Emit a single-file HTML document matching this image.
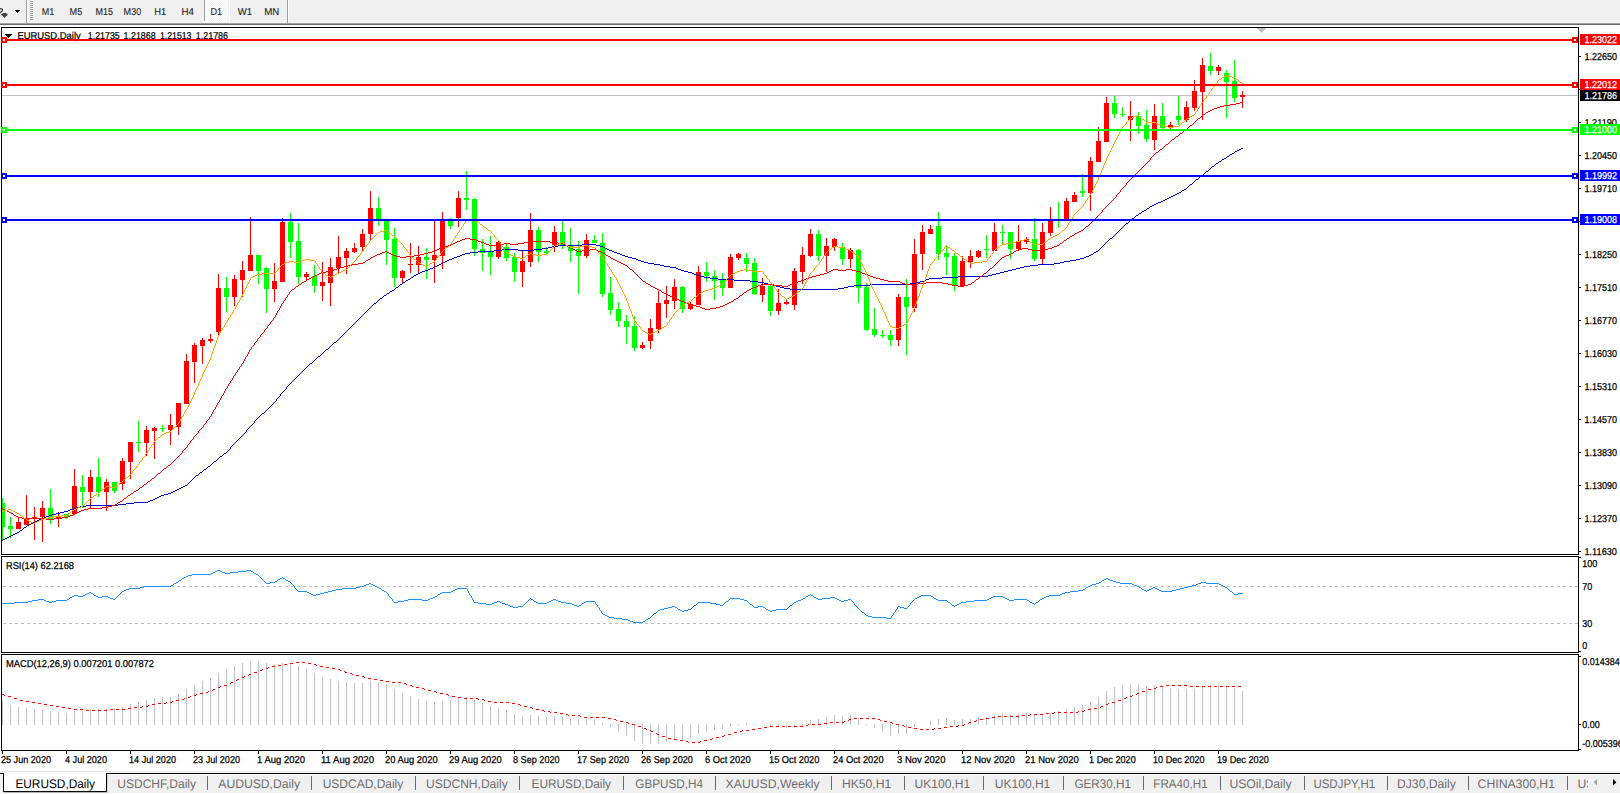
<!DOCTYPE html><html><head><meta charset="utf-8"><style>html,body{margin:0;padding:0;background:#fff;overflow:hidden}svg{display:block}text{font-family:"Liberation Sans",sans-serif}</style></head><body>
<svg width="1620" height="794" viewBox="0 0 1620 794" shape-rendering="crispEdges" text-rendering="geometricPrecision">
<rect x="0" y="0" width="1620" height="794" fill="#ffffff"/>
<rect x="0" y="0" width="1620" height="22" fill="#f0f0f0"/>
<rect x="0" y="22" width="1620" height="1" fill="#f7f7f7"/>
<rect x="0" y="23" width="1620" height="1" fill="#a0a0a0"/>
<rect x="0" y="24" width="1620" height="1" fill="#696969"/>
<path d="M0,8.6 Q2.6,8.6 2.4,10.4 Q2,11.8 0,12.6" fill="none" stroke="#3c3c3c" stroke-width="1.4" shape-rendering="auto"/>
<path d="M1,14.4 L3.3,13 L5.7,13 L8,14.4 L4.5,18 Z" fill="#444" shape-rendering="auto"/>
<rect x="15" y="10" width="5" height="1" fill="#000"/>
<rect x="16" y="11" width="3" height="1" fill="#000"/>
<rect x="17" y="12" width="1" height="1" fill="#000"/>
<rect x="26" y="0" width="1" height="23" fill="#a0a0a0"/>
<rect x="27" y="0" width="1" height="23" fill="#ffffff"/>
<rect x="30" y="1" width="3" height="1" fill="#a0a0a0"/>
<rect x="30" y="3" width="3" height="1" fill="#a0a0a0"/>
<rect x="30" y="5" width="3" height="1" fill="#a0a0a0"/>
<rect x="30" y="7" width="3" height="1" fill="#a0a0a0"/>
<rect x="30" y="9" width="3" height="1" fill="#a0a0a0"/>
<rect x="30" y="11" width="3" height="1" fill="#a0a0a0"/>
<rect x="30" y="13" width="3" height="1" fill="#a0a0a0"/>
<rect x="30" y="15" width="3" height="1" fill="#a0a0a0"/>
<rect x="30" y="17" width="3" height="1" fill="#a0a0a0"/>
<rect x="30" y="19" width="3" height="1" fill="#a0a0a0"/>
<rect x="287" y="0" width="1" height="23" fill="#a0a0a0"/>
<rect x="288" y="0" width="1" height="23" fill="#ffffff"/>
<defs><pattern id="chk" width="2" height="2" patternUnits="userSpaceOnUse"><rect width="2" height="2" fill="#f0f0f0"/><rect width="1" height="1" fill="#ffffff"/><rect x="1" y="1" width="1" height="1" fill="#ffffff"/></pattern></defs>
<rect x="205" y="0" width="23" height="21" fill="url(#chk)"/>
<rect x="229" y="0" width="1" height="22" fill="#ffffff"/>
<rect x="204" y="21" width="26" height="1" fill="#ffffff"/>
<rect x="204" y="0" width="1" height="21" fill="#a0a0a0"/>
<text x="41.7" y="15" font-size="10" fill="#222" textLength="12.5" lengthAdjust="spacingAndGlyphs" stroke="#222" stroke-width="0.1">M1</text>
<text x="69.6" y="15" font-size="10" fill="#222" textLength="12.6" lengthAdjust="spacingAndGlyphs" stroke="#222" stroke-width="0.1">M5</text>
<text x="95.6" y="15" font-size="10" fill="#222" textLength="17.5" lengthAdjust="spacingAndGlyphs" stroke="#222" stroke-width="0.1">M15</text>
<text x="123.6" y="15" font-size="10" fill="#222" textLength="17.6" lengthAdjust="spacingAndGlyphs" stroke="#222" stroke-width="0.1">M30</text>
<text x="154.3" y="15" font-size="10" fill="#222" textLength="12.0" lengthAdjust="spacingAndGlyphs" stroke="#222" stroke-width="0.1">H1</text>
<text x="181.5" y="15" font-size="10" fill="#222" textLength="12.5" lengthAdjust="spacingAndGlyphs" stroke="#222" stroke-width="0.1">H4</text>
<text x="210.5" y="15" font-size="10" fill="#222" textLength="11.7" lengthAdjust="spacingAndGlyphs" stroke="#222" stroke-width="0.1">D1</text>
<text x="237.7" y="15" font-size="10" fill="#222" textLength="14.4" lengthAdjust="spacingAndGlyphs" stroke="#222" stroke-width="0.1">W1</text>
<text x="264.2" y="15" font-size="10" fill="#222" textLength="15.1" lengthAdjust="spacingAndGlyphs" stroke="#222" stroke-width="0.1">MN</text>
<rect x="1" y="27" width="1578" height="1" fill="#000"/>
<rect x="1" y="554" width="1578" height="1" fill="#000"/>
<rect x="1" y="27" width="1" height="528" fill="#000"/>
<rect x="1578" y="27" width="1" height="528" fill="#000"/>
<rect x="1" y="556" width="1578" height="1" fill="#000"/>
<rect x="1" y="652" width="1578" height="1" fill="#000"/>
<rect x="1" y="556" width="1" height="97" fill="#000"/>
<rect x="1578" y="556" width="1" height="97" fill="#000"/>
<rect x="1" y="654" width="1578" height="1" fill="#000"/>
<rect x="1" y="750" width="1578" height="1" fill="#000"/>
<rect x="1" y="654" width="1" height="97" fill="#000"/>
<rect x="1578" y="654" width="1" height="97" fill="#000"/>
<defs><clipPath id="cm"><rect x="2" y="28" width="1576" height="526"/></clipPath><clipPath id="cr"><rect x="2" y="557" width="1576" height="95"/></clipPath><clipPath id="cd"><rect x="2" y="655" width="1576" height="95"/></clipPath></defs>
<g clip-path="url(#cm)">
<rect x="2" y="95" width="1576" height="1" fill="#c0c0c0"/>
<rect x="2" y="498" width="1" height="42" fill="#00ff00"/>
<rect x="0" y="503" width="5" height="24" fill="#00ff00"/>
<rect x="10" y="517" width="1" height="21" fill="#00ff00"/>
<rect x="8" y="526" width="5" height="3" fill="#00ff00"/>
<rect x="18" y="517" width="1" height="12" fill="#ff0000"/>
<rect x="16" y="522" width="5" height="7" fill="#ff0000"/>
<rect x="26" y="495" width="1" height="30" fill="#ff0000"/>
<rect x="24" y="519" width="5" height="6" fill="#ff0000"/>
<rect x="34" y="507" width="1" height="33" fill="#ff0000"/>
<rect x="32" y="517" width="5" height="2" fill="#ff0000"/>
<rect x="42" y="501" width="1" height="41" fill="#ff0000"/>
<rect x="40" y="508" width="5" height="9" fill="#ff0000"/>
<rect x="50" y="489" width="1" height="35" fill="#00ff00"/>
<rect x="48" y="508" width="5" height="11" fill="#00ff00"/>
<rect x="58" y="512" width="1" height="15" fill="#ff0000"/>
<rect x="56" y="516" width="5" height="3" fill="#ff0000"/>
<rect x="66" y="514" width="1" height="5" fill="#00ff00"/>
<rect x="64" y="514" width="5" height="3" fill="#00ff00"/>
<rect x="74" y="469" width="1" height="46" fill="#ff0000"/>
<rect x="72" y="486" width="5" height="28" fill="#ff0000"/>
<rect x="82" y="475" width="1" height="33" fill="#00ff00"/>
<rect x="80" y="487" width="5" height="5" fill="#00ff00"/>
<rect x="90" y="470" width="1" height="38" fill="#ff0000"/>
<rect x="88" y="477" width="5" height="15" fill="#ff0000"/>
<rect x="98" y="458" width="1" height="39" fill="#00ff00"/>
<rect x="96" y="477" width="5" height="15" fill="#00ff00"/>
<rect x="106" y="479" width="1" height="32" fill="#ff0000"/>
<rect x="104" y="482" width="5" height="10" fill="#ff0000"/>
<rect x="114" y="482" width="1" height="11" fill="#00ff00"/>
<rect x="112" y="482" width="5" height="9" fill="#00ff00"/>
<rect x="122" y="458" width="1" height="32" fill="#ff0000"/>
<rect x="120" y="461" width="5" height="23" fill="#ff0000"/>
<rect x="130" y="442" width="1" height="37" fill="#ff0000"/>
<rect x="128" y="442" width="5" height="20" fill="#ff0000"/>
<rect x="138" y="421" width="1" height="31" fill="#00ff00"/>
<rect x="136" y="442" width="5" height="1" fill="#00ff00"/>
<rect x="146" y="426" width="1" height="30" fill="#ff0000"/>
<rect x="144" y="430" width="5" height="13" fill="#ff0000"/>
<rect x="154" y="427" width="1" height="32" fill="#ff0000"/>
<rect x="152" y="428" width="5" height="3" fill="#ff0000"/>
<rect x="162" y="425" width="1" height="7" fill="#00ff00"/>
<rect x="160" y="428" width="5" height="1" fill="#00ff00"/>
<rect x="170" y="414" width="1" height="31" fill="#ff0000"/>
<rect x="168" y="425" width="5" height="5" fill="#ff0000"/>
<rect x="178" y="403" width="1" height="32" fill="#ff0000"/>
<rect x="176" y="403" width="5" height="24" fill="#ff0000"/>
<rect x="186" y="354" width="1" height="50" fill="#ff0000"/>
<rect x="184" y="361" width="5" height="43" fill="#ff0000"/>
<rect x="194" y="343" width="1" height="40" fill="#ff0000"/>
<rect x="192" y="345" width="5" height="17" fill="#ff0000"/>
<rect x="202" y="338" width="1" height="26" fill="#ff0000"/>
<rect x="200" y="340" width="5" height="6" fill="#ff0000"/>
<rect x="210" y="334" width="1" height="9" fill="#ff0000"/>
<rect x="208" y="339" width="5" height="2" fill="#ff0000"/>
<rect x="218" y="274" width="1" height="63" fill="#ff0000"/>
<rect x="216" y="288" width="5" height="44" fill="#ff0000"/>
<rect x="226" y="277" width="1" height="35" fill="#00ff00"/>
<rect x="224" y="288" width="5" height="9" fill="#00ff00"/>
<rect x="234" y="275" width="1" height="31" fill="#ff0000"/>
<rect x="232" y="279" width="5" height="18" fill="#ff0000"/>
<rect x="242" y="261" width="1" height="36" fill="#ff0000"/>
<rect x="240" y="270" width="5" height="10" fill="#ff0000"/>
<rect x="250" y="217" width="1" height="54" fill="#ff0000"/>
<rect x="248" y="255" width="5" height="16" fill="#ff0000"/>
<rect x="258" y="255" width="1" height="29" fill="#00ff00"/>
<rect x="256" y="255" width="5" height="16" fill="#00ff00"/>
<rect x="266" y="267" width="1" height="46" fill="#00ff00"/>
<rect x="264" y="268" width="5" height="21" fill="#00ff00"/>
<rect x="274" y="263" width="1" height="39" fill="#ff0000"/>
<rect x="272" y="281" width="5" height="8" fill="#ff0000"/>
<rect x="282" y="218" width="1" height="64" fill="#ff0000"/>
<rect x="280" y="222" width="5" height="60" fill="#ff0000"/>
<rect x="290" y="213" width="1" height="45" fill="#00ff00"/>
<rect x="288" y="222" width="5" height="20" fill="#00ff00"/>
<rect x="298" y="223" width="1" height="61" fill="#00ff00"/>
<rect x="296" y="241" width="5" height="36" fill="#00ff00"/>
<rect x="306" y="272" width="1" height="8" fill="#ff0000"/>
<rect x="304" y="274" width="5" height="3" fill="#ff0000"/>
<rect x="314" y="265" width="1" height="28" fill="#00ff00"/>
<rect x="312" y="276" width="5" height="10" fill="#00ff00"/>
<rect x="322" y="262" width="1" height="39" fill="#ff0000"/>
<rect x="320" y="282" width="5" height="4" fill="#ff0000"/>
<rect x="330" y="258" width="1" height="48" fill="#ff0000"/>
<rect x="328" y="267" width="5" height="16" fill="#ff0000"/>
<rect x="338" y="236" width="1" height="37" fill="#ff0000"/>
<rect x="336" y="257" width="5" height="11" fill="#ff0000"/>
<rect x="346" y="248" width="1" height="26" fill="#ff0000"/>
<rect x="344" y="251" width="5" height="7" fill="#ff0000"/>
<rect x="354" y="243" width="1" height="10" fill="#ff0000"/>
<rect x="352" y="248" width="5" height="4" fill="#ff0000"/>
<rect x="362" y="229" width="1" height="23" fill="#ff0000"/>
<rect x="360" y="234" width="5" height="13" fill="#ff0000"/>
<rect x="370" y="191" width="1" height="49" fill="#ff0000"/>
<rect x="368" y="208" width="5" height="26" fill="#ff0000"/>
<rect x="378" y="197" width="1" height="29" fill="#00ff00"/>
<rect x="376" y="208" width="5" height="13" fill="#00ff00"/>
<rect x="386" y="220" width="1" height="45" fill="#00ff00"/>
<rect x="384" y="221" width="5" height="19" fill="#00ff00"/>
<rect x="394" y="228" width="1" height="59" fill="#00ff00"/>
<rect x="392" y="239" width="5" height="39" fill="#00ff00"/>
<rect x="402" y="270" width="1" height="13" fill="#ff0000"/>
<rect x="400" y="271" width="5" height="7" fill="#ff0000"/>
<rect x="410" y="243" width="1" height="30" fill="#ff0000"/>
<rect x="408" y="264" width="5" height="1" fill="#ff0000"/>
<rect x="418" y="246" width="1" height="27" fill="#ff0000"/>
<rect x="416" y="257" width="5" height="8" fill="#ff0000"/>
<rect x="426" y="248" width="1" height="31" fill="#00ff00"/>
<rect x="424" y="257" width="5" height="3" fill="#00ff00"/>
<rect x="434" y="221" width="1" height="62" fill="#ff0000"/>
<rect x="432" y="255" width="5" height="5" fill="#ff0000"/>
<rect x="442" y="212" width="1" height="57" fill="#ff0000"/>
<rect x="440" y="220" width="5" height="36" fill="#ff0000"/>
<rect x="450" y="218" width="1" height="11" fill="#00ff00"/>
<rect x="448" y="221" width="5" height="5" fill="#00ff00"/>
<rect x="458" y="191" width="1" height="36" fill="#ff0000"/>
<rect x="456" y="198" width="5" height="20" fill="#ff0000"/>
<rect x="466" y="171" width="1" height="39" fill="#00ff00"/>
<rect x="464" y="198" width="5" height="2" fill="#00ff00"/>
<rect x="474" y="198" width="1" height="58" fill="#00ff00"/>
<rect x="472" y="199" width="5" height="50" fill="#00ff00"/>
<rect x="482" y="239" width="1" height="32" fill="#00ff00"/>
<rect x="480" y="249" width="5" height="4" fill="#00ff00"/>
<rect x="490" y="236" width="1" height="39" fill="#00ff00"/>
<rect x="488" y="252" width="5" height="5" fill="#00ff00"/>
<rect x="498" y="241" width="1" height="18" fill="#ff0000"/>
<rect x="496" y="242" width="5" height="15" fill="#ff0000"/>
<rect x="506" y="244" width="1" height="17" fill="#00ff00"/>
<rect x="504" y="247" width="5" height="11" fill="#00ff00"/>
<rect x="514" y="253" width="1" height="29" fill="#00ff00"/>
<rect x="512" y="257" width="5" height="15" fill="#00ff00"/>
<rect x="522" y="251" width="1" height="36" fill="#ff0000"/>
<rect x="520" y="261" width="5" height="11" fill="#ff0000"/>
<rect x="530" y="213" width="1" height="54" fill="#ff0000"/>
<rect x="528" y="230" width="5" height="32" fill="#ff0000"/>
<rect x="538" y="227" width="1" height="35" fill="#00ff00"/>
<rect x="536" y="230" width="5" height="22" fill="#00ff00"/>
<rect x="546" y="247" width="1" height="8" fill="#00ff00"/>
<rect x="544" y="251" width="5" height="2" fill="#00ff00"/>
<rect x="554" y="226" width="1" height="26" fill="#ff0000"/>
<rect x="552" y="232" width="5" height="13" fill="#ff0000"/>
<rect x="562" y="221" width="1" height="28" fill="#00ff00"/>
<rect x="560" y="232" width="5" height="13" fill="#00ff00"/>
<rect x="570" y="228" width="1" height="34" fill="#00ff00"/>
<rect x="568" y="245" width="5" height="6" fill="#00ff00"/>
<rect x="578" y="241" width="1" height="53" fill="#00ff00"/>
<rect x="576" y="249" width="5" height="7" fill="#00ff00"/>
<rect x="586" y="234" width="1" height="24" fill="#ff0000"/>
<rect x="584" y="240" width="5" height="16" fill="#ff0000"/>
<rect x="594" y="235" width="1" height="8" fill="#00ff00"/>
<rect x="592" y="240" width="5" height="3" fill="#00ff00"/>
<rect x="602" y="233" width="1" height="64" fill="#00ff00"/>
<rect x="600" y="243" width="5" height="51" fill="#00ff00"/>
<rect x="610" y="277" width="1" height="38" fill="#00ff00"/>
<rect x="608" y="293" width="5" height="17" fill="#00ff00"/>
<rect x="618" y="302" width="1" height="25" fill="#00ff00"/>
<rect x="616" y="309" width="5" height="12" fill="#00ff00"/>
<rect x="626" y="315" width="1" height="29" fill="#00ff00"/>
<rect x="624" y="321" width="5" height="6" fill="#00ff00"/>
<rect x="634" y="316" width="1" height="35" fill="#00ff00"/>
<rect x="632" y="326" width="5" height="22" fill="#00ff00"/>
<rect x="642" y="342" width="1" height="7" fill="#ff0000"/>
<rect x="640" y="345" width="5" height="3" fill="#ff0000"/>
<rect x="650" y="319" width="1" height="30" fill="#ff0000"/>
<rect x="648" y="328" width="5" height="13" fill="#ff0000"/>
<rect x="658" y="291" width="1" height="42" fill="#ff0000"/>
<rect x="656" y="303" width="5" height="26" fill="#ff0000"/>
<rect x="666" y="286" width="1" height="32" fill="#ff0000"/>
<rect x="664" y="300" width="5" height="4" fill="#ff0000"/>
<rect x="674" y="279" width="1" height="30" fill="#ff0000"/>
<rect x="672" y="287" width="5" height="14" fill="#ff0000"/>
<rect x="682" y="286" width="1" height="27" fill="#00ff00"/>
<rect x="680" y="287" width="5" height="22" fill="#00ff00"/>
<rect x="690" y="302" width="1" height="8" fill="#ff0000"/>
<rect x="688" y="304" width="5" height="5" fill="#ff0000"/>
<rect x="698" y="266" width="1" height="39" fill="#ff0000"/>
<rect x="696" y="272" width="5" height="33" fill="#ff0000"/>
<rect x="706" y="262" width="1" height="20" fill="#00ff00"/>
<rect x="704" y="272" width="5" height="4" fill="#00ff00"/>
<rect x="714" y="270" width="1" height="30" fill="#00ff00"/>
<rect x="712" y="276" width="5" height="5" fill="#00ff00"/>
<rect x="722" y="273" width="1" height="23" fill="#00ff00"/>
<rect x="720" y="280" width="5" height="8" fill="#00ff00"/>
<rect x="730" y="254" width="1" height="34" fill="#ff0000"/>
<rect x="728" y="257" width="5" height="31" fill="#ff0000"/>
<rect x="738" y="253" width="1" height="7" fill="#ff0000"/>
<rect x="736" y="254" width="5" height="4" fill="#ff0000"/>
<rect x="746" y="253" width="1" height="19" fill="#00ff00"/>
<rect x="744" y="258" width="5" height="6" fill="#00ff00"/>
<rect x="754" y="258" width="1" height="37" fill="#00ff00"/>
<rect x="752" y="263" width="5" height="31" fill="#00ff00"/>
<rect x="762" y="278" width="1" height="24" fill="#ff0000"/>
<rect x="760" y="286" width="5" height="9" fill="#ff0000"/>
<rect x="770" y="284" width="1" height="32" fill="#00ff00"/>
<rect x="768" y="286" width="5" height="25" fill="#00ff00"/>
<rect x="778" y="289" width="1" height="26" fill="#ff0000"/>
<rect x="776" y="303" width="5" height="8" fill="#ff0000"/>
<rect x="786" y="300" width="1" height="5" fill="#ff0000"/>
<rect x="784" y="302" width="5" height="2" fill="#ff0000"/>
<rect x="794" y="268" width="1" height="42" fill="#ff0000"/>
<rect x="792" y="271" width="5" height="34" fill="#ff0000"/>
<rect x="802" y="247" width="1" height="37" fill="#ff0000"/>
<rect x="800" y="255" width="5" height="17" fill="#ff0000"/>
<rect x="810" y="229" width="1" height="28" fill="#ff0000"/>
<rect x="808" y="234" width="5" height="22" fill="#ff0000"/>
<rect x="818" y="230" width="1" height="31" fill="#00ff00"/>
<rect x="816" y="234" width="5" height="22" fill="#00ff00"/>
<rect x="826" y="238" width="1" height="34" fill="#ff0000"/>
<rect x="824" y="246" width="5" height="10" fill="#ff0000"/>
<rect x="834" y="238" width="1" height="13" fill="#ff0000"/>
<rect x="832" y="239" width="5" height="8" fill="#ff0000"/>
<rect x="842" y="243" width="1" height="22" fill="#00ff00"/>
<rect x="840" y="247" width="5" height="12" fill="#00ff00"/>
<rect x="850" y="248" width="1" height="20" fill="#ff0000"/>
<rect x="848" y="250" width="5" height="9" fill="#ff0000"/>
<rect x="858" y="249" width="1" height="54" fill="#00ff00"/>
<rect x="856" y="250" width="5" height="38" fill="#00ff00"/>
<rect x="866" y="283" width="1" height="48" fill="#00ff00"/>
<rect x="864" y="287" width="5" height="43" fill="#00ff00"/>
<rect x="874" y="308" width="1" height="29" fill="#00ff00"/>
<rect x="872" y="329" width="5" height="6" fill="#00ff00"/>
<rect x="882" y="330" width="1" height="8" fill="#00ff00"/>
<rect x="880" y="335" width="5" height="1" fill="#00ff00"/>
<rect x="890" y="330" width="1" height="16" fill="#00ff00"/>
<rect x="888" y="335" width="5" height="5" fill="#00ff00"/>
<rect x="898" y="294" width="1" height="52" fill="#ff0000"/>
<rect x="896" y="297" width="5" height="43" fill="#ff0000"/>
<rect x="906" y="279" width="1" height="76" fill="#00ff00"/>
<rect x="904" y="297" width="5" height="10" fill="#00ff00"/>
<rect x="914" y="239" width="1" height="73" fill="#ff0000"/>
<rect x="912" y="254" width="5" height="54" fill="#ff0000"/>
<rect x="922" y="225" width="1" height="45" fill="#ff0000"/>
<rect x="920" y="232" width="5" height="22" fill="#ff0000"/>
<rect x="930" y="225" width="1" height="9" fill="#ff0000"/>
<rect x="928" y="229" width="5" height="5" fill="#ff0000"/>
<rect x="938" y="212" width="1" height="48" fill="#00ff00"/>
<rect x="936" y="226" width="5" height="28" fill="#00ff00"/>
<rect x="946" y="246" width="1" height="29" fill="#00ff00"/>
<rect x="944" y="253" width="5" height="4" fill="#00ff00"/>
<rect x="954" y="253" width="1" height="38" fill="#00ff00"/>
<rect x="952" y="256" width="5" height="29" fill="#00ff00"/>
<rect x="962" y="256" width="1" height="30" fill="#ff0000"/>
<rect x="960" y="261" width="5" height="25" fill="#ff0000"/>
<rect x="970" y="250" width="1" height="18" fill="#ff0000"/>
<rect x="968" y="256" width="5" height="6" fill="#ff0000"/>
<rect x="978" y="250" width="1" height="8" fill="#ff0000"/>
<rect x="976" y="251" width="5" height="6" fill="#ff0000"/>
<rect x="986" y="235" width="1" height="23" fill="#00ff00"/>
<rect x="984" y="249" width="5" height="1" fill="#00ff00"/>
<rect x="994" y="223" width="1" height="28" fill="#ff0000"/>
<rect x="992" y="232" width="5" height="19" fill="#ff0000"/>
<rect x="1002" y="225" width="1" height="19" fill="#00ff00"/>
<rect x="1000" y="232" width="5" height="1" fill="#00ff00"/>
<rect x="1010" y="232" width="1" height="27" fill="#00ff00"/>
<rect x="1008" y="232" width="5" height="17" fill="#00ff00"/>
<rect x="1018" y="225" width="1" height="26" fill="#ff0000"/>
<rect x="1016" y="241" width="5" height="8" fill="#ff0000"/>
<rect x="1026" y="237" width="1" height="7" fill="#ff0000"/>
<rect x="1024" y="239" width="5" height="3" fill="#ff0000"/>
<rect x="1034" y="218" width="1" height="43" fill="#00ff00"/>
<rect x="1032" y="239" width="5" height="20" fill="#00ff00"/>
<rect x="1042" y="223" width="1" height="42" fill="#ff0000"/>
<rect x="1040" y="232" width="5" height="27" fill="#ff0000"/>
<rect x="1050" y="207" width="1" height="29" fill="#ff0000"/>
<rect x="1048" y="220" width="5" height="13" fill="#ff0000"/>
<rect x="1058" y="202" width="1" height="26" fill="#00ff00"/>
<rect x="1056" y="219" width="5" height="1" fill="#00ff00"/>
<rect x="1066" y="198" width="1" height="21" fill="#ff0000"/>
<rect x="1064" y="201" width="5" height="18" fill="#ff0000"/>
<rect x="1074" y="192" width="1" height="10" fill="#ff0000"/>
<rect x="1072" y="195" width="5" height="7" fill="#ff0000"/>
<rect x="1082" y="174" width="1" height="23" fill="#00ff00"/>
<rect x="1080" y="191" width="5" height="2" fill="#00ff00"/>
<rect x="1090" y="157" width="1" height="54" fill="#ff0000"/>
<rect x="1088" y="161" width="5" height="32" fill="#ff0000"/>
<rect x="1098" y="127" width="1" height="35" fill="#ff0000"/>
<rect x="1096" y="141" width="5" height="21" fill="#ff0000"/>
<rect x="1106" y="97" width="1" height="45" fill="#ff0000"/>
<rect x="1104" y="103" width="5" height="39" fill="#ff0000"/>
<rect x="1114" y="96" width="1" height="22" fill="#00ff00"/>
<rect x="1112" y="103" width="5" height="11" fill="#00ff00"/>
<rect x="1122" y="107" width="1" height="10" fill="#00ff00"/>
<rect x="1120" y="114" width="5" height="1" fill="#00ff00"/>
<rect x="1130" y="101" width="1" height="40" fill="#ff0000"/>
<rect x="1128" y="116" width="5" height="4" fill="#ff0000"/>
<rect x="1138" y="112" width="1" height="22" fill="#00ff00"/>
<rect x="1136" y="116" width="5" height="10" fill="#00ff00"/>
<rect x="1146" y="110" width="1" height="32" fill="#00ff00"/>
<rect x="1144" y="125" width="5" height="14" fill="#00ff00"/>
<rect x="1154" y="104" width="1" height="46" fill="#ff0000"/>
<rect x="1152" y="116" width="5" height="24" fill="#ff0000"/>
<rect x="1162" y="103" width="1" height="26" fill="#00ff00"/>
<rect x="1160" y="116" width="5" height="12" fill="#00ff00"/>
<rect x="1170" y="122" width="1" height="7" fill="#ff0000"/>
<rect x="1168" y="125" width="5" height="3" fill="#ff0000"/>
<rect x="1178" y="96" width="1" height="29" fill="#00ff00"/>
<rect x="1176" y="116" width="5" height="4" fill="#00ff00"/>
<rect x="1186" y="101" width="1" height="21" fill="#ff0000"/>
<rect x="1184" y="107" width="5" height="13" fill="#ff0000"/>
<rect x="1194" y="80" width="1" height="31" fill="#ff0000"/>
<rect x="1192" y="91" width="5" height="17" fill="#ff0000"/>
<rect x="1202" y="58" width="1" height="62" fill="#ff0000"/>
<rect x="1200" y="65" width="5" height="27" fill="#ff0000"/>
<rect x="1210" y="53" width="1" height="22" fill="#00ff00"/>
<rect x="1208" y="66" width="5" height="5" fill="#00ff00"/>
<rect x="1218" y="65" width="1" height="10" fill="#ff0000"/>
<rect x="1216" y="67" width="5" height="4" fill="#ff0000"/>
<rect x="1226" y="70" width="1" height="48" fill="#00ff00"/>
<rect x="1224" y="73" width="5" height="9" fill="#00ff00"/>
<rect x="1234" y="60" width="1" height="42" fill="#00ff00"/>
<rect x="1232" y="81" width="5" height="17" fill="#00ff00"/>
<rect x="1242" y="91" width="1" height="17" fill="#ff0000"/>
<rect x="1240" y="95" width="5" height="2" fill="#ff0000"/>
<path d="M2 540h1v1h-1zM3 539h2v1h-2zM5 538h2v1h-2zM7 537h2v1h-2zM9 536h2v1h-2zM11 535h2v1h-2zM13 534h2v1h-2zM15 533h2v1h-2zM17 532h2v1h-2zM19 531h1v1h-1zM20 530h2v1h-2zM22 529h1v1h-1zM23 528h1v1h-1zM24 527h2v1h-2zM26 526h1v1h-1zM27 525h2v1h-2zM29 524h2v1h-2zM31 523h2v1h-2zM33 522h2v1h-2zM35 521h2v1h-2zM37 520h2v1h-2zM39 519h2v1h-2zM41 518h3v1h-3zM44 517h2v1h-2zM46 516h3v1h-3zM49 515h3v1h-3zM52 514h4v1h-4zM56 513h4v1h-4zM60 512h4v1h-4zM64 511h4v1h-4zM68 510h2v1h-2zM70 509h3v1h-3zM73 508h3v1h-3zM76 507h4v1h-4zM80 506h6v1h-6zM86 505h32v1h-32zM118 504h8v1h-8zM126 503h8v1h-8zM134 502h14v1h-14zM148 501h2v1h-2zM150 500h3v1h-3zM153 499h2v1h-2zM155 498h2v1h-2zM157 497h2v1h-2zM159 496h2v1h-2zM161 495h3v1h-3zM164 494h4v1h-4zM168 493h3v1h-3zM171 492h2v1h-2zM173 491h2v1h-2zM175 490h2v1h-2zM177 489h2v1h-2zM179 488h2v1h-2zM181 487h2v1h-2zM183 486h2v1h-2zM185 485h2v1h-2zM187 484h1v1h-1zM188 483h1v1h-1zM189 482h1v1h-1zM190 481h1v1h-1zM191 480h1v1h-1zM192 479h1v1h-1zM193 478h1v1h-1zM194 477h1v1h-1zM195 476h1v1h-1zM196 475h2v1h-2zM198 474h1v1h-1zM199 473h1v1h-1zM200 472h2v1h-2zM202 471h1v1h-1zM203 470h1v1h-1zM204 469h2v1h-2zM206 468h1v1h-1zM207 467h1v1h-1zM208 466h2v1h-2zM210 465h1v1h-1zM211 464h1v1h-1zM212 463h1v1h-1zM213 462h1v1h-1zM214 461h2v1h-2zM216 460h1v1h-1zM217 459h1v1h-1zM218 458h1v1h-1zM219 457h1v1h-1zM220 456h2v1h-2zM222 455h1v1h-1zM223 454h1v1h-1zM224 453h2v1h-2zM226 452h1v1h-1zM227 451h1v1h-1zM228 450h1v1h-1zM229 449h1v1h-1zM230 448h1v1h-1zM230 447h1v1h-1zM231 446h1v1h-1zM232 445h1v1h-1zM233 444h1v1h-1zM234 443h1v1h-1zM235 442h1v1h-1zM236 441h1v1h-1zM237 440h1v1h-1zM238 439h1v1h-1zM239 438h1v1h-1zM240 437h1v1h-1zM241 436h1v1h-1zM242 435h1v1h-1zM243 434h1v1h-1zM244 433h1v1h-1zM245 432h1v1h-1zM246 431h1v1h-1zM246 430h1v1h-1zM247 429h1v1h-1zM248 428h1v1h-1zM249 427h1v1h-1zM250 426h1v1h-1zM251 425h1v1h-1zM252 424h1v1h-1zM253 423h1v1h-1zM254 422h1v1h-1zM254 421h1v1h-1zM255 420h1v1h-1zM256 419h1v1h-1zM257 418h1v1h-1zM258 417h1v1h-1zM259 416h1v1h-1zM260 415h1v1h-1zM261 414h1v1h-1zM262 413h2v1h-2zM264 412h1v1h-1zM265 411h1v1h-1zM266 410h1v1h-1zM267 409h1v1h-1zM268 408h1v1h-1zM269 407h1v1h-1zM270 406h1v1h-1zM271 405h1v1h-1zM272 404h1v1h-1zM273 403h1v1h-1zM274 402h1v1h-1zM275 401h1v1h-1zM276 400h1v1h-1zM276 399h1v1h-1zM277 398h1v1h-1zM278 397h1v1h-1zM279 396h1v1h-1zM280 395h1v1h-1zM280 394h1v1h-1zM281 393h1v1h-1zM282 392h1v1h-1zM283 391h1v1h-1zM284 390h1v1h-1zM285 389h1v1h-1zM286 388h1v1h-1zM286 387h1v1h-1zM287 386h1v1h-1zM288 385h1v1h-1zM289 384h1v1h-1zM290 383h1v1h-1zM291 382h1v1h-1zM292 381h1v1h-1zM293 380h1v1h-1zM294 379h1v1h-1zM295 378h1v1h-1zM296 377h1v1h-1zM297 376h1v1h-1zM298 375h1v1h-1zM299 374h1v1h-1zM300 373h1v1h-1zM301 372h1v1h-1zM302 371h1v1h-1zM303 370h1v1h-1zM304 369h1v1h-1zM305 368h1v1h-1zM306 367h1v1h-1zM307 366h1v1h-1zM308 365h1v1h-1zM309 364h1v1h-1zM310 363h2v1h-2zM312 362h1v1h-1zM313 361h1v1h-1zM314 360h1v1h-1zM315 359h1v1h-1zM316 358h1v1h-1zM317 357h1v1h-1zM318 356h2v1h-2zM320 355h1v1h-1zM321 354h1v1h-1zM322 353h1v1h-1zM323 352h1v1h-1zM324 351h1v1h-1zM325 350h1v1h-1zM326 349h2v1h-2zM328 348h1v1h-1zM329 347h1v1h-1zM330 346h1v1h-1zM331 345h1v1h-1zM332 344h1v1h-1zM333 343h1v1h-1zM334 342h2v1h-2zM336 341h1v1h-1zM337 340h1v1h-1zM338 339h1v1h-1zM339 338h1v1h-1zM340 337h1v1h-1zM341 336h1v1h-1zM342 335h1v1h-1zM343 334h1v1h-1zM344 333h1v1h-1zM345 332h1v1h-1zM346 331h1v1h-1zM347 330h1v1h-1zM348 329h1v1h-1zM349 328h1v1h-1zM350 327h1v1h-1zM351 326h1v1h-1zM352 325h1v1h-1zM353 324h1v1h-1zM354 323h1v1h-1zM355 322h1v1h-1zM356 321h1v1h-1zM357 320h1v1h-1zM358 319h1v1h-1zM359 318h1v1h-1zM360 317h1v1h-1zM361 316h1v1h-1zM362 315h1v1h-1zM363 314h1v1h-1zM364 313h1v1h-1zM365 312h1v1h-1zM366 311h1v1h-1zM367 310h1v1h-1zM368 309h1v1h-1zM369 308h1v1h-1zM370 307h1v1h-1zM371 306h1v1h-1zM372 305h1v1h-1zM373 304h1v1h-1zM374 303h2v1h-2zM376 302h1v1h-1zM377 301h1v1h-1zM378 300h1v1h-1zM379 299h1v1h-1zM380 298h2v1h-2zM382 297h1v1h-1zM383 296h1v1h-1zM384 295h2v1h-2zM386 294h1v1h-1zM387 293h2v1h-2zM389 292h1v1h-1zM390 291h2v1h-2zM392 290h2v1h-2zM394 289h1v1h-1zM790 289h48v1h-48zM395 288h1v1h-1zM784 288h6v1h-6zM838 288h6v1h-6zM396 287h2v1h-2zM780 287h4v1h-4zM844 287h4v1h-4zM398 286h1v1h-1zM776 286h4v1h-4zM848 286h6v1h-6zM399 285h1v1h-1zM772 285h4v1h-4zM854 285h16v1h-16zM400 284h2v1h-2zM768 284h4v1h-4zM870 284h40v1h-40zM402 283h1v1h-1zM764 283h4v1h-4zM910 283h6v1h-6zM403 282h2v1h-2zM758 282h6v1h-6zM916 282h4v1h-4zM405 281h1v1h-1zM750 281h8v1h-8zM920 281h4v1h-4zM406 280h2v1h-2zM734 280h16v1h-16zM924 280h2v1h-2zM408 279h2v1h-2zM718 279h16v1h-16zM926 279h3v1h-3zM410 278h1v1h-1zM710 278h8v1h-8zM929 278h13v1h-13zM411 277h2v1h-2zM704 277h6v1h-6zM942 277h16v1h-16zM413 276h1v1h-1zM700 276h4v1h-4zM958 276h30v1h-30zM414 275h2v1h-2zM697 275h3v1h-3zM988 275h4v1h-4zM416 274h2v1h-2zM694 274h3v1h-3zM992 274h4v1h-4zM418 273h2v1h-2zM692 273h2v1h-2zM996 273h4v1h-4zM420 272h2v1h-2zM688 272h4v1h-4zM1000 272h4v1h-4zM422 271h3v1h-3zM684 271h4v1h-4zM1004 271h4v1h-4zM425 270h3v1h-3zM681 270h3v1h-3zM1008 270h4v1h-4zM428 269h2v1h-2zM678 269h3v1h-3zM1012 269h4v1h-4zM430 268h3v1h-3zM676 268h2v1h-2zM1016 268h4v1h-4zM433 267h2v1h-2zM670 267h6v1h-6zM1020 267h4v1h-4zM435 266h2v1h-2zM664 266h6v1h-6zM1024 266h6v1h-6zM437 265h2v1h-2zM660 265h4v1h-4zM1030 265h8v1h-8zM439 264h2v1h-2zM654 264h6v1h-6zM1038 264h16v1h-16zM441 263h2v1h-2zM648 263h6v1h-6zM1054 263h6v1h-6zM443 262h2v1h-2zM644 262h4v1h-4zM1060 262h4v1h-4zM445 261h2v1h-2zM641 261h3v1h-3zM1064 261h6v1h-6zM447 260h2v1h-2zM638 260h3v1h-3zM1070 260h6v1h-6zM449 259h3v1h-3zM636 259h2v1h-2zM1076 259h4v1h-4zM452 258h2v1h-2zM632 258h4v1h-4zM1080 258h4v1h-4zM454 257h3v1h-3zM628 257h4v1h-4zM1084 257h2v1h-2zM457 256h3v1h-3zM625 256h3v1h-3zM1086 256h3v1h-3zM460 255h2v1h-2zM622 255h3v1h-3zM1089 255h2v1h-2zM462 254h3v1h-3zM620 254h2v1h-2zM1091 254h2v1h-2zM465 253h5v1h-5zM617 253h3v1h-3zM1093 253h1v1h-1zM470 252h8v1h-8zM614 252h3v1h-3zM1094 252h2v1h-2zM478 251h16v1h-16zM612 251h2v1h-2zM1096 251h2v1h-2zM494 250h8v1h-8zM518 250h16v1h-16zM609 250h3v1h-3zM1098 250h1v1h-1zM502 249h16v1h-16zM534 249h8v1h-8zM607 249h2v1h-2zM1099 249h1v1h-1zM542 248h6v1h-6zM605 248h2v1h-2zM1100 248h1v1h-1zM548 247h4v1h-4zM603 247h2v1h-2zM1101 247h1v1h-1zM552 246h6v1h-6zM600 246h3v1h-3zM1102 246h1v1h-1zM558 245h24v1h-24zM596 245h4v1h-4zM1103 245h1v1h-1zM582 244h14v1h-14zM1104 244h1v1h-1zM1105 243h1v1h-1zM1106 242h1v1h-1zM1107 241h1v1h-1zM1108 240h1v1h-1zM1109 239h1v1h-1zM1110 238h2v1h-2zM1112 237h1v1h-1zM1113 236h1v1h-1zM1114 235h1v1h-1zM1115 234h1v1h-1zM1116 233h1v1h-1zM1117 232h1v1h-1zM1118 231h1v1h-1zM1119 230h1v1h-1zM1120 229h1v1h-1zM1121 228h1v1h-1zM1122 227h1v1h-1zM1123 226h1v1h-1zM1124 225h1v1h-1zM1125 224h1v1h-1zM1126 223h2v1h-2zM1128 222h1v1h-1zM1129 221h1v1h-1zM1130 220h1v1h-1zM1131 219h1v1h-1zM1132 218h2v1h-2zM1134 217h1v1h-1zM1135 216h1v1h-1zM1136 215h2v1h-2zM1138 214h1v1h-1zM1139 213h2v1h-2zM1141 212h1v1h-1zM1142 211h2v1h-2zM1144 210h2v1h-2zM1146 209h1v1h-1zM1147 208h2v1h-2zM1149 207h1v1h-1zM1150 206h2v1h-2zM1152 205h2v1h-2zM1154 204h2v1h-2zM1156 203h2v1h-2zM1158 202h3v1h-3zM1161 201h2v1h-2zM1163 200h2v1h-2zM1165 199h2v1h-2zM1167 198h2v1h-2zM1169 197h2v1h-2zM1171 196h2v1h-2zM1173 195h2v1h-2zM1175 194h2v1h-2zM1177 193h2v1h-2zM1179 192h2v1h-2zM1181 191h1v1h-1zM1182 190h2v1h-2zM1184 189h2v1h-2zM1186 188h1v1h-1zM1187 187h1v1h-1zM1188 186h1v1h-1zM1189 185h1v1h-1zM1190 184h2v1h-2zM1192 183h1v1h-1zM1193 182h1v1h-1zM1194 181h1v1h-1zM1195 180h1v1h-1zM1196 179h2v1h-2zM1198 178h1v1h-1zM1199 177h1v1h-1zM1200 176h2v1h-2zM1202 175h1v1h-1zM1203 174h1v1h-1zM1204 173h1v1h-1zM1205 172h1v1h-1zM1206 171h2v1h-2zM1208 170h1v1h-1zM1209 169h1v1h-1zM1210 168h1v1h-1zM1211 167h1v1h-1zM1212 166h2v1h-2zM1214 165h1v1h-1zM1215 164h1v1h-1zM1216 163h2v1h-2zM1218 162h1v1h-1zM1219 161h2v1h-2zM1221 160h1v1h-1zM1222 159h2v1h-2zM1224 158h2v1h-2zM1226 157h1v1h-1zM1227 156h2v1h-2zM1229 155h1v1h-1zM1230 154h2v1h-2zM1232 153h2v1h-2zM1234 152h1v1h-1zM1235 151h2v1h-2zM1237 150h2v1h-2zM1239 149h2v1h-2zM1241 148h2v1h-2z" fill="#0000cd"/>
<path d="M2 508h1v1h-1zM88 508h14v1h-14zM3 509h2v1h-2zM84 509h4v1h-4zM5 510h2v1h-2zM81 510h3v1h-3zM7 511h2v1h-2zM79 511h2v1h-2zM9 512h2v1h-2zM77 512h2v1h-2zM11 513h2v1h-2zM75 513h2v1h-2zM13 514h1v1h-1zM73 514h2v1h-2zM14 515h2v1h-2zM70 515h3v1h-3zM16 516h2v1h-2zM68 516h2v1h-2zM18 517h4v1h-4zM62 517h6v1h-6zM22 518h24v1h-24zM54 518h8v1h-8zM46 519h8v1h-8zM102 507h6v1h-6zM108 506h4v1h-4zM112 505h3v1h-3zM115 504h2v1h-2zM117 503h1v1h-1zM118 502h2v1h-2zM120 501h2v1h-2zM122 500h1v1h-1zM123 499h1v1h-1zM124 498h2v1h-2zM126 497h1v1h-1zM127 496h1v1h-1zM128 495h2v1h-2zM130 494h1v1h-1zM131 493h2v1h-2zM133 492h1v1h-1zM134 491h2v1h-2zM136 490h2v1h-2zM138 489h1v1h-1zM139 488h1v1h-1zM140 487h2v1h-2zM142 486h1v1h-1zM143 485h1v1h-1zM144 484h2v1h-2zM146 483h1v1h-1zM147 482h1v1h-1zM148 481h2v1h-2zM150 480h1v1h-1zM151 479h1v1h-1zM152 478h2v1h-2zM154 477h1v1h-1zM155 476h1v1h-1zM156 475h1v1h-1zM157 474h1v1h-1zM158 473h2v1h-2zM160 472h1v1h-1zM161 471h1v1h-1zM162 470h1v1h-1zM163 469h1v1h-1zM164 468h2v1h-2zM166 467h1v1h-1zM167 466h1v1h-1zM168 465h2v1h-2zM170 464h1v1h-1zM171 463h1v1h-1zM172 462h1v1h-1zM173 461h1v1h-1zM174 460h1v1h-1zM175 459h1v1h-1zM176 458h1v1h-1zM177 457h1v1h-1zM178 456h1v1h-1zM179 455h1v1h-1zM180 454h1v1h-1zM181 453h1v1h-1zM182 452h1v1h-1zM182 451h1v1h-1zM183 450h1v1h-1zM184 449h1v1h-1zM185 448h1v1h-1zM186 447h1v1h-1zM187 446h1v1h-1zM187 445h1v1h-1zM188 444h1v1h-1zM189 443h1v1h-1zM190 442h1v1h-1zM190 441h1v1h-1zM191 440h1v1h-1zM192 439h1v1h-1zM193 438h1v1h-1zM193 437h1v1h-1zM194 436h1v1h-1zM195 435h1v1h-1zM196 434h1v1h-1zM197 433h1v1h-1zM198 432h1v1h-1zM198 431h1v1h-1zM199 430h1v1h-1zM200 429h1v1h-1zM201 428h1v1h-1zM202 427h1v1h-1zM203 426h1v1h-1zM203 425h1v1h-1zM204 424h1v1h-1zM205 423h1v1h-1zM206 422h1v1h-1zM206 421h1v1h-1zM207 420h1v1h-1zM208 419h1v1h-1zM209 418h1v1h-1zM209 417h1v1h-1zM210 416h1v1h-1zM211 415h1v1h-1zM211 414h1v1h-1zM212 413h1v1h-1zM212 412h1v1h-1zM213 411h1v1h-1zM213 410h1v1h-1zM214 409h1v1h-1zM215 408h1v1h-1zM215 407h1v1h-1zM216 406h1v1h-1zM216 405h1v1h-1zM217 404h1v1h-1zM217 403h1v1h-1zM218 402h1v1h-1zM219 401h1v1h-1zM219 400h1v1h-1zM220 399h1v1h-1zM220 398h1v1h-1zM221 397h1v1h-1zM221 396h1v1h-1zM222 395h1v1h-1zM223 394h1v1h-1zM223 393h1v1h-1zM224 392h1v1h-1zM224 391h1v1h-1zM225 390h1v1h-1zM225 389h1v1h-1zM226 388h1v1h-1zM227 387h1v1h-1zM227 386h1v1h-1zM228 385h1v1h-1zM228 384h1v1h-1zM229 383h1v1h-1zM230 382h1v1h-1zM230 381h1v1h-1zM231 380h1v1h-1zM232 379h1v1h-1zM232 378h1v1h-1zM233 377h1v1h-1zM233 376h1v1h-1zM234 375h1v1h-1zM235 374h1v1h-1zM235 373h1v1h-1zM236 372h1v1h-1zM237 371h1v1h-1zM237 370h1v1h-1zM238 369h1v1h-1zM239 368h1v1h-1zM239 367h1v1h-1zM240 366h1v1h-1zM241 365h1v1h-1zM241 364h1v1h-1zM242 363h1v1h-1zM243 362h1v1h-1zM243 361h1v1h-1zM244 360h1v1h-1zM244 359h1v1h-1zM245 358h1v1h-1zM245 357h1v1h-1zM246 356h1v1h-1zM247 355h1v1h-1zM247 354h1v1h-1zM248 353h1v1h-1zM248 352h1v1h-1zM249 351h1v1h-1zM249 350h1v1h-1zM250 349h1v1h-1zM251 348h1v1h-1zM251 347h1v1h-1zM252 346h1v1h-1zM253 345h1v1h-1zM254 344h1v1h-1zM254 343h1v1h-1zM255 342h1v1h-1zM256 341h1v1h-1zM257 340h1v1h-1zM257 339h1v1h-1zM258 338h1v1h-1zM259 337h1v1h-1zM260 336h1v1h-1zM260 335h1v1h-1zM261 334h1v1h-1zM262 333h1v1h-1zM263 332h1v1h-1zM264 331h1v1h-1zM264 330h1v1h-1zM265 329h1v1h-1zM266 328h1v1h-1zM267 327h1v1h-1zM267 326h1v1h-1zM268 325h1v1h-1zM269 324h1v1h-1zM270 323h1v1h-1zM270 322h1v1h-1zM271 321h1v1h-1zM272 320h1v1h-1zM273 319h1v1h-1zM273 318h1v1h-1zM274 317h1v1h-1zM275 316h1v1h-1zM275 315h1v1h-1zM276 314h1v1h-1zM276 313h1v1h-1zM277 312h1v1h-1zM277 311h1v1h-1zM278 310h1v1h-1zM279 309h1v1h-1zM705 309h5v1h-5zM279 308h1v1h-1zM702 308h3v1h-3zM710 308h6v1h-6zM280 307h1v1h-1zM700 307h2v1h-2zM716 307h4v1h-4zM280 306h1v1h-1zM696 306h4v1h-4zM720 306h3v1h-3zM281 305h1v1h-1zM692 305h4v1h-4zM723 305h2v1h-2zM281 304h1v1h-1zM689 304h3v1h-3zM725 304h2v1h-2zM282 303h1v1h-1zM686 303h3v1h-3zM727 303h2v1h-2zM283 302h1v1h-1zM684 302h2v1h-2zM729 302h2v1h-2zM283 301h1v1h-1zM681 301h3v1h-3zM731 301h2v1h-2zM284 300h1v1h-1zM679 300h2v1h-2zM733 300h1v1h-1zM285 299h1v1h-1zM677 299h2v1h-2zM734 299h2v1h-2zM285 298h1v1h-1zM675 298h2v1h-2zM736 298h2v1h-2zM286 297h1v1h-1zM673 297h2v1h-2zM738 297h1v1h-1zM287 296h1v1h-1zM670 296h3v1h-3zM739 296h1v1h-1zM287 295h1v1h-1zM668 295h2v1h-2zM740 295h2v1h-2zM288 294h1v1h-1zM666 294h2v1h-2zM742 294h1v1h-1zM289 293h1v1h-1zM664 293h2v1h-2zM743 293h1v1h-1zM289 292h1v1h-1zM662 292h2v1h-2zM744 292h2v1h-2zM290 291h1v1h-1zM661 291h1v1h-1zM746 291h1v1h-1zM291 290h1v1h-1zM659 290h2v1h-2zM747 290h2v1h-2zM292 289h2v1h-2zM657 289h2v1h-2zM749 289h2v1h-2zM294 288h1v1h-1zM655 288h2v1h-2zM751 288h2v1h-2zM295 287h1v1h-1zM653 287h2v1h-2zM753 287h3v1h-3zM296 286h2v1h-2zM651 286h2v1h-2zM756 286h2v1h-2zM782 286h6v1h-6zM958 286h6v1h-6zM298 285h1v1h-1zM650 285h1v1h-1zM758 285h3v1h-3zM774 285h8v1h-8zM788 285h2v1h-2zM952 285h6v1h-6zM964 285h4v1h-4zM299 284h2v1h-2zM648 284h2v1h-2zM761 284h13v1h-13zM790 284h3v1h-3zM905 284h13v1h-13zM948 284h4v1h-4zM968 284h3v1h-3zM301 283h1v1h-1zM646 283h2v1h-2zM793 283h3v1h-3zM902 283h3v1h-3zM918 283h8v1h-8zM942 283h6v1h-6zM971 283h1v1h-1zM302 282h2v1h-2zM645 282h1v1h-1zM796 282h2v1h-2zM900 282h2v1h-2zM926 282h16v1h-16zM972 282h2v1h-2zM304 281h2v1h-2zM643 281h2v1h-2zM798 281h3v1h-3zM888 281h12v1h-12zM974 281h1v1h-1zM306 280h1v1h-1zM642 280h1v1h-1zM801 280h3v1h-3zM884 280h4v1h-4zM975 280h1v1h-1zM307 279h2v1h-2zM641 279h1v1h-1zM804 279h2v1h-2zM880 279h4v1h-4zM976 279h2v1h-2zM309 278h2v1h-2zM640 278h1v1h-1zM806 278h3v1h-3zM876 278h4v1h-4zM978 278h1v1h-1zM311 277h2v1h-2zM639 277h1v1h-1zM809 277h3v1h-3zM873 277h3v1h-3zM979 277h1v1h-1zM313 276h2v1h-2zM638 276h1v1h-1zM812 276h4v1h-4zM870 276h3v1h-3zM980 276h2v1h-2zM315 275h2v1h-2zM637 275h1v1h-1zM816 275h4v1h-4zM868 275h2v1h-2zM982 275h1v1h-1zM317 274h2v1h-2zM636 274h1v1h-1zM820 274h4v1h-4zM865 274h3v1h-3zM983 274h1v1h-1zM319 273h2v1h-2zM635 273h1v1h-1zM824 273h3v1h-3zM862 273h3v1h-3zM984 273h2v1h-2zM321 272h5v1h-5zM634 272h1v1h-1zM827 272h2v1h-2zM860 272h2v1h-2zM986 272h1v1h-1zM326 271h6v1h-6zM633 271h1v1h-1zM829 271h2v1h-2zM856 271h4v1h-4zM987 271h1v1h-1zM332 270h2v1h-2zM632 270h1v1h-1zM831 270h2v1h-2zM838 270h8v1h-8zM852 270h4v1h-4zM988 270h1v1h-1zM334 269h3v1h-3zM630 269h2v1h-2zM833 269h5v1h-5zM846 269h6v1h-6zM989 269h1v1h-1zM337 268h3v1h-3zM629 268h1v1h-1zM990 268h2v1h-2zM340 267h4v1h-4zM628 267h1v1h-1zM992 267h1v1h-1zM344 266h4v1h-4zM627 266h1v1h-1zM993 266h1v1h-1zM348 265h4v1h-4zM625 265h2v1h-2zM994 265h1v1h-1zM352 264h6v1h-6zM623 264h2v1h-2zM995 264h1v1h-1zM358 263h5v1h-5zM621 263h2v1h-2zM996 263h1v1h-1zM363 262h2v1h-2zM619 262h2v1h-2zM997 262h1v1h-1zM365 261h1v1h-1zM617 261h2v1h-2zM998 261h1v1h-1zM366 260h2v1h-2zM615 260h2v1h-2zM999 260h1v1h-1zM368 259h2v1h-2zM613 259h2v1h-2zM1000 259h1v1h-1zM370 258h1v1h-1zM611 258h2v1h-2zM1001 258h1v1h-1zM371 257h2v1h-2zM400 257h6v1h-6zM610 257h1v1h-1zM1002 257h2v1h-2zM373 256h2v1h-2zM396 256h4v1h-4zM406 256h8v1h-8zM608 256h2v1h-2zM1004 256h2v1h-2zM375 255h2v1h-2zM393 255h3v1h-3zM414 255h6v1h-6zM606 255h2v1h-2zM1006 255h3v1h-3zM377 254h3v1h-3zM391 254h2v1h-2zM420 254h4v1h-4zM605 254h1v1h-1zM1009 254h2v1h-2zM380 253h2v1h-2zM389 253h2v1h-2zM424 253h4v1h-4zM603 253h2v1h-2zM1011 253h2v1h-2zM382 252h3v1h-3zM387 252h2v1h-2zM428 252h4v1h-4zM601 252h2v1h-2zM1013 252h1v1h-1zM385 251h2v1h-2zM432 251h3v1h-3zM577 251h5v1h-5zM598 251h3v1h-3zM1014 251h2v1h-2zM435 250h2v1h-2zM575 250h2v1h-2zM582 250h8v1h-8zM596 250h2v1h-2zM1016 250h2v1h-2zM1032 250h12v1h-12zM437 249h2v1h-2zM573 249h2v1h-2zM590 249h6v1h-6zM1018 249h4v1h-4zM1028 249h4v1h-4zM1044 249h4v1h-4zM439 248h2v1h-2zM571 248h2v1h-2zM1022 248h6v1h-6zM1048 248h4v1h-4zM441 247h3v1h-3zM569 247h2v1h-2zM1052 247h2v1h-2zM444 246h4v1h-4zM567 246h2v1h-2zM1054 246h3v1h-3zM448 245h3v1h-3zM489 245h11v1h-11zM565 245h2v1h-2zM1057 245h2v1h-2zM451 244h2v1h-2zM486 244h3v1h-3zM500 244h4v1h-4zM510 244h8v1h-8zM563 244h2v1h-2zM1059 244h1v1h-1zM453 243h2v1h-2zM484 243h2v1h-2zM504 243h6v1h-6zM518 243h6v1h-6zM558 243h5v1h-5zM1060 243h2v1h-2zM455 242h2v1h-2zM481 242h3v1h-3zM524 242h4v1h-4zM550 242h8v1h-8zM1062 242h1v1h-1zM457 241h3v1h-3zM478 241h3v1h-3zM528 241h22v1h-22zM1063 241h1v1h-1zM460 240h2v1h-2zM476 240h2v1h-2zM1064 240h2v1h-2zM462 239h3v1h-3zM470 239h6v1h-6zM1066 239h1v1h-1zM465 238h5v1h-5zM1067 238h2v1h-2zM1069 237h1v1h-1zM1070 236h2v1h-2zM1072 235h2v1h-2zM1074 234h1v1h-1zM1075 233h2v1h-2zM1077 232h2v1h-2zM1079 231h2v1h-2zM1081 230h2v1h-2zM1083 229h1v1h-1zM1084 228h1v1h-1zM1085 227h1v1h-1zM1086 226h2v1h-2zM1088 225h1v1h-1zM1089 224h1v1h-1zM1090 223h1v1h-1zM1091 222h1v1h-1zM1092 221h1v1h-1zM1093 220h1v1h-1zM1094 219h1v1h-1zM1095 218h1v1h-1zM1096 217h1v1h-1zM1097 216h1v1h-1zM1098 215h1v1h-1zM1099 214h1v1h-1zM1100 213h1v1h-1zM1101 212h1v1h-1zM1102 211h1v1h-1zM1102 210h1v1h-1zM1103 209h1v1h-1zM1104 208h1v1h-1zM1105 207h1v1h-1zM1106 206h1v1h-1zM1107 205h1v1h-1zM1108 204h1v1h-1zM1109 203h1v1h-1zM1110 202h1v1h-1zM1111 201h1v1h-1zM1112 200h1v1h-1zM1113 199h1v1h-1zM1114 198h1v1h-1zM1115 197h1v1h-1zM1116 196h1v1h-1zM1116 195h1v1h-1zM1117 194h1v1h-1zM1118 193h1v1h-1zM1119 192h1v1h-1zM1120 191h1v1h-1zM1120 190h1v1h-1zM1121 189h1v1h-1zM1122 188h1v1h-1zM1123 187h1v1h-1zM1124 186h1v1h-1zM1125 185h1v1h-1zM1126 184h1v1h-1zM1126 183h1v1h-1zM1127 182h1v1h-1zM1128 181h1v1h-1zM1129 180h1v1h-1zM1130 179h1v1h-1zM1131 178h1v1h-1zM1132 177h1v1h-1zM1133 176h1v1h-1zM1134 175h1v1h-1zM1135 174h1v1h-1zM1136 173h1v1h-1zM1137 172h1v1h-1zM1138 171h1v1h-1zM1139 170h1v1h-1zM1140 169h1v1h-1zM1141 168h1v1h-1zM1142 167h1v1h-1zM1143 166h1v1h-1zM1144 165h1v1h-1zM1145 164h1v1h-1zM1146 163h1v1h-1zM1147 162h1v1h-1zM1148 161h1v1h-1zM1149 160h1v1h-1zM1150 159h1v1h-1zM1150 158h1v1h-1zM1151 157h1v1h-1zM1152 156h1v1h-1zM1153 155h1v1h-1zM1154 154h1v1h-1zM1155 153h1v1h-1zM1156 152h2v1h-2zM1158 151h1v1h-1zM1159 150h1v1h-1zM1160 149h2v1h-2zM1162 148h1v1h-1zM1163 147h1v1h-1zM1164 146h1v1h-1zM1165 145h1v1h-1zM1166 144h2v1h-2zM1168 143h1v1h-1zM1169 142h1v1h-1zM1170 141h1v1h-1zM1171 140h1v1h-1zM1172 139h2v1h-2zM1174 138h1v1h-1zM1175 137h1v1h-1zM1176 136h2v1h-2zM1178 135h1v1h-1zM1179 134h1v1h-1zM1180 133h2v1h-2zM1182 132h1v1h-1zM1183 131h1v1h-1zM1184 130h2v1h-2zM1186 129h1v1h-1zM1187 128h1v1h-1zM1188 127h1v1h-1zM1189 126h1v1h-1zM1190 125h2v1h-2zM1192 124h1v1h-1zM1193 123h1v1h-1zM1194 122h1v1h-1zM1195 121h1v1h-1zM1196 120h1v1h-1zM1197 119h1v1h-1zM1198 118h2v1h-2zM1200 117h1v1h-1zM1201 116h1v1h-1zM1202 115h1v1h-1zM1203 114h2v1h-2zM1205 113h1v1h-1zM1206 112h2v1h-2zM1208 111h2v1h-2zM1210 110h2v1h-2zM1212 109h2v1h-2zM1214 108h3v1h-3zM1217 107h3v1h-3zM1220 106h4v1h-4zM1224 105h6v1h-6zM1230 104h6v1h-6zM1236 103h4v1h-4zM1240 102h3v1h-3z" fill="#ff0000"/>
<path d="M2 511h2v1h-2zM13 511h2v1h-2zM71 511h1v1h-1zM4 510h4v1h-4zM11 510h2v1h-2zM72 510h2v1h-2zM8 509h3v1h-3zM74 509h2v1h-2zM15 512h2v1h-2zM70 512h1v1h-1zM17 513h2v1h-2zM68 513h2v1h-2zM19 514h1v1h-1zM67 514h1v1h-1zM20 515h2v1h-2zM62 515h5v1h-5zM22 516h1v1h-1zM54 516h8v1h-8zM23 517h1v1h-1zM48 517h6v1h-6zM24 518h2v1h-2zM44 518h4v1h-4zM26 519h1v1h-1zM41 519h3v1h-3zM27 520h2v1h-2zM39 520h2v1h-2zM29 521h2v1h-2zM37 521h2v1h-2zM31 522h2v1h-2zM35 522h2v1h-2zM33 523h2v1h-2zM76 508h2v1h-2zM78 507h3v1h-3zM81 506h2v1h-2zM83 505h1v1h-1zM84 504h1v1h-1zM85 503h1v1h-1zM86 502h1v1h-1zM87 501h1v1h-1zM88 500h1v1h-1zM89 499h1v1h-1zM90 498h1v1h-1zM91 497h2v1h-2zM93 496h1v1h-1zM94 495h2v1h-2zM96 494h2v1h-2zM98 493h1v1h-1zM99 492h1v1h-1zM100 491h1v1h-1zM101 490h1v1h-1zM102 489h2v1h-2zM104 488h1v1h-1zM105 487h1v1h-1zM110 487h5v1h-5zM106 486h4v1h-4zM115 486h1v1h-1zM116 485h2v1h-2zM118 484h1v1h-1zM119 483h1v1h-1zM120 482h2v1h-2zM122 481h1v1h-1zM123 480h1v1h-1zM124 479h1v1h-1zM125 478h1v1h-1zM126 477h2v1h-2zM128 476h1v1h-1zM129 475h1v1h-1zM130 474h1v1h-1zM131 473h1v1h-1zM132 472h1v1h-1zM132 471h1v1h-1zM133 470h1v1h-1zM134 469h1v1h-1zM135 468h1v1h-1zM136 467h1v1h-1zM136 466h1v1h-1zM137 465h1v1h-1zM138 464h1v1h-1zM139 463h1v1h-1zM139 462h1v1h-1zM140 461h1v1h-1zM141 460h1v1h-1zM142 459h1v1h-1zM142 458h1v1h-1zM143 457h1v1h-1zM144 456h1v1h-1zM145 455h1v1h-1zM145 454h1v1h-1zM146 453h1v1h-1zM147 452h1v1h-1zM147 451h1v1h-1zM148 450h1v1h-1zM149 449h1v1h-1zM149 448h1v1h-1zM150 447h1v1h-1zM151 446h1v1h-1zM151 445h1v1h-1zM152 444h1v1h-1zM153 443h1v1h-1zM153 442h1v1h-1zM154 441h1v1h-1zM155 440h1v1h-1zM156 439h1v1h-1zM157 438h1v1h-1zM158 437h2v1h-2zM160 436h1v1h-1zM161 435h1v1h-1zM162 434h2v1h-2zM164 433h2v1h-2zM166 432h3v1h-3zM169 431h2v1h-2zM171 430h1v1h-1zM172 429h1v1h-1zM173 428h1v1h-1zM174 427h1v1h-1zM175 426h1v1h-1zM176 425h1v1h-1zM177 424h1v1h-1zM178 423h1v1h-1zM179 422h1v1h-1zM179 421h1v1h-1zM180 420h1v1h-1zM180 419h1v1h-1zM181 418h1v1h-1zM181 417h1v1h-1zM182 416h1v1h-1zM183 415h1v1h-1zM183 414h1v1h-1zM184 413h1v1h-1zM184 412h1v1h-1zM185 411h1v1h-1zM185 410h1v1h-1zM186 409h1v1h-1zM187 408h1v1h-1zM187 407h1v1h-1zM188 406h1v1h-1zM188 405h1v1h-1zM189 404h1v1h-1zM189 403h1v1h-1zM190 402h1v1h-1zM190 401h1v1h-1zM191 400h1v1h-1zM191 399h1v1h-1zM192 398h1v1h-1zM192 397h1v1h-1zM193 396h1v1h-1zM193 395h1v1h-1zM194 394h1v1h-1zM194 393h1v1h-1zM194 392h1v1h-1zM195 391h1v1h-1zM195 390h1v1h-1zM196 389h1v1h-1zM196 388h1v1h-1zM197 387h1v1h-1zM197 386h1v1h-1zM198 385h1v1h-1zM198 384h1v1h-1zM198 383h1v1h-1zM199 382h1v1h-1zM199 381h1v1h-1zM200 380h1v1h-1zM200 379h1v1h-1zM201 378h1v1h-1zM201 377h1v1h-1zM202 376h1v1h-1zM202 375h1v1h-1zM202 374h1v1h-1zM203 373h1v1h-1zM203 372h1v1h-1zM204 371h1v1h-1zM204 370h1v1h-1zM205 369h1v1h-1zM205 368h1v1h-1zM206 367h1v1h-1zM206 366h1v1h-1zM207 365h1v1h-1zM207 364h1v1h-1zM208 363h1v1h-1zM208 362h1v1h-1zM209 361h1v1h-1zM209 360h1v1h-1zM210 359h1v1h-1zM210 358h1v1h-1zM210 357h1v1h-1zM211 356h1v1h-1zM211 355h1v1h-1zM211 354h1v1h-1zM212 353h1v1h-1zM212 352h1v1h-1zM212 351h1v1h-1zM213 350h1v1h-1zM213 349h1v1h-1zM213 348h1v1h-1zM214 347h1v1h-1zM214 346h1v1h-1zM215 345h1v1h-1zM215 344h1v1h-1zM215 343h1v1h-1zM216 342h1v1h-1zM216 341h1v1h-1zM216 340h1v1h-1zM217 339h1v1h-1zM217 338h1v1h-1zM217 337h1v1h-1zM218 336h1v1h-1zM218 335h1v1h-1zM219 334h1v1h-1zM649 334h2v1h-2zM219 333h1v1h-1zM647 333h2v1h-2zM651 333h2v1h-2zM220 332h1v1h-1zM645 332h2v1h-2zM653 332h2v1h-2zM220 331h1v1h-1zM643 331h2v1h-2zM655 331h2v1h-2zM221 330h1v1h-1zM642 330h1v1h-1zM657 330h2v1h-2zM222 329h1v1h-1zM641 329h1v1h-1zM659 329h2v1h-2zM222 328h1v1h-1zM640 328h1v1h-1zM661 328h1v1h-1zM896 328h3v1h-3zM223 327h1v1h-1zM640 327h1v1h-1zM662 327h2v1h-2zM892 327h4v1h-4zM899 327h2v1h-2zM224 326h1v1h-1zM639 326h1v1h-1zM664 326h2v1h-2zM890 326h2v1h-2zM901 326h1v1h-1zM224 325h1v1h-1zM638 325h1v1h-1zM666 325h1v1h-1zM890 325h1v1h-1zM902 325h2v1h-2zM225 324h1v1h-1zM637 324h1v1h-1zM667 324h1v1h-1zM889 324h1v1h-1zM904 324h2v1h-2zM225 323h1v1h-1zM636 323h1v1h-1zM667 323h1v1h-1zM889 323h1v1h-1zM906 323h1v1h-1zM226 322h1v1h-1zM636 322h1v1h-1zM668 322h1v1h-1zM888 322h1v1h-1zM907 322h1v1h-1zM227 321h1v1h-1zM635 321h1v1h-1zM669 321h1v1h-1zM888 321h1v1h-1zM907 321h1v1h-1zM227 320h1v1h-1zM634 320h1v1h-1zM669 320h1v1h-1zM887 320h1v1h-1zM908 320h1v1h-1zM228 319h1v1h-1zM634 319h1v1h-1zM670 319h1v1h-1zM887 319h1v1h-1zM908 319h1v1h-1zM228 318h1v1h-1zM633 318h1v1h-1zM671 318h1v1h-1zM886 318h1v1h-1zM909 318h1v1h-1zM229 317h1v1h-1zM633 317h1v1h-1zM671 317h1v1h-1zM886 317h1v1h-1zM909 317h1v1h-1zM230 316h1v1h-1zM632 316h1v1h-1zM672 316h1v1h-1zM886 316h1v1h-1zM910 316h1v1h-1zM230 315h1v1h-1zM632 315h1v1h-1zM673 315h1v1h-1zM885 315h1v1h-1zM910 315h1v1h-1zM231 314h1v1h-1zM632 314h1v1h-1zM673 314h1v1h-1zM885 314h1v1h-1zM911 314h1v1h-1zM232 313h1v1h-1zM631 313h1v1h-1zM674 313h1v1h-1zM884 313h1v1h-1zM911 313h1v1h-1zM232 312h1v1h-1zM631 312h1v1h-1zM675 312h1v1h-1zM884 312h1v1h-1zM912 312h1v1h-1zM233 311h1v1h-1zM631 311h1v1h-1zM676 311h1v1h-1zM883 311h1v1h-1zM912 311h1v1h-1zM233 310h1v1h-1zM630 310h1v1h-1zM677 310h1v1h-1zM883 310h1v1h-1zM913 310h1v1h-1zM234 309h1v1h-1zM630 309h1v1h-1zM678 309h1v1h-1zM882 309h1v1h-1zM913 309h1v1h-1zM235 308h1v1h-1zM629 308h1v1h-1zM679 308h1v1h-1zM882 308h1v1h-1zM914 308h1v1h-1zM235 307h1v1h-1zM629 307h1v1h-1zM680 307h1v1h-1zM882 307h1v1h-1zM914 307h1v1h-1zM236 306h1v1h-1zM629 306h1v1h-1zM681 306h1v1h-1zM881 306h1v1h-1zM914 306h1v1h-1zM236 305h1v1h-1zM628 305h1v1h-1zM682 305h1v1h-1zM881 305h1v1h-1zM915 305h1v1h-1zM237 304h1v1h-1zM628 304h1v1h-1zM683 304h2v1h-2zM880 304h1v1h-1zM915 304h1v1h-1zM237 303h1v1h-1zM628 303h1v1h-1zM685 303h2v1h-2zM880 303h1v1h-1zM916 303h1v1h-1zM238 302h1v1h-1zM627 302h1v1h-1zM687 302h2v1h-2zM879 302h1v1h-1zM916 302h1v1h-1zM239 301h1v1h-1zM627 301h1v1h-1zM689 301h2v1h-2zM879 301h1v1h-1zM916 301h1v1h-1zM239 300h1v1h-1zM626 300h1v1h-1zM691 300h1v1h-1zM878 300h1v1h-1zM917 300h1v1h-1zM240 299h1v1h-1zM626 299h1v1h-1zM692 299h1v1h-1zM786 299h1v1h-1zM878 299h1v1h-1zM917 299h1v1h-1zM240 298h1v1h-1zM626 298h1v1h-1zM693 298h1v1h-1zM785 298h1v1h-1zM787 298h2v1h-2zM877 298h1v1h-1zM917 298h1v1h-1zM241 297h1v1h-1zM625 297h1v1h-1zM694 297h2v1h-2zM784 297h1v1h-1zM789 297h2v1h-2zM877 297h1v1h-1zM918 297h1v1h-1zM241 296h1v1h-1zM625 296h1v1h-1zM696 296h1v1h-1zM782 296h2v1h-2zM791 296h2v1h-2zM876 296h1v1h-1zM918 296h1v1h-1zM242 295h1v1h-1zM624 295h1v1h-1zM697 295h1v1h-1zM781 295h1v1h-1zM793 295h2v1h-2zM876 295h1v1h-1zM919 295h1v1h-1zM242 294h1v1h-1zM624 294h1v1h-1zM698 294h1v1h-1zM780 294h1v1h-1zM795 294h1v1h-1zM875 294h1v1h-1zM919 294h1v1h-1zM243 293h1v1h-1zM623 293h1v1h-1zM699 293h2v1h-2zM779 293h1v1h-1zM796 293h1v1h-1zM875 293h1v1h-1zM919 293h1v1h-1zM243 292h1v1h-1zM623 292h1v1h-1zM701 292h2v1h-2zM778 292h1v1h-1zM797 292h1v1h-1zM874 292h1v1h-1zM920 292h1v1h-1zM244 291h1v1h-1zM622 291h1v1h-1zM703 291h2v1h-2zM777 291h1v1h-1zM798 291h2v1h-2zM874 291h1v1h-1zM920 291h1v1h-1zM244 290h1v1h-1zM622 290h1v1h-1zM705 290h3v1h-3zM776 290h1v1h-1zM800 290h1v1h-1zM873 290h1v1h-1zM920 290h1v1h-1zM245 289h1v1h-1zM621 289h1v1h-1zM708 289h4v1h-4zM776 289h1v1h-1zM801 289h1v1h-1zM873 289h1v1h-1zM921 289h1v1h-1zM245 288h1v1h-1zM621 288h1v1h-1zM712 288h3v1h-3zM775 288h1v1h-1zM802 288h1v1h-1zM872 288h1v1h-1zM921 288h1v1h-1zM246 287h1v1h-1zM620 287h1v1h-1zM715 287h2v1h-2zM774 287h1v1h-1zM803 287h1v1h-1zM872 287h1v1h-1zM922 287h1v1h-1zM246 286h1v1h-1zM620 286h1v1h-1zM717 286h2v1h-2zM773 286h1v1h-1zM803 286h1v1h-1zM871 286h1v1h-1zM922 286h1v1h-1zM247 285h1v1h-1zM619 285h1v1h-1zM719 285h2v1h-2zM772 285h1v1h-1zM804 285h1v1h-1zM871 285h1v1h-1zM922 285h1v1h-1zM247 284h1v1h-1zM619 284h1v1h-1zM721 284h2v1h-2zM772 284h1v1h-1zM804 284h1v1h-1zM871 284h1v1h-1zM923 284h1v1h-1zM248 283h1v1h-1zM618 283h1v1h-1zM723 283h1v1h-1zM771 283h1v1h-1zM805 283h1v1h-1zM870 283h1v1h-1zM923 283h1v1h-1zM248 282h1v1h-1zM618 282h1v1h-1zM724 282h1v1h-1zM770 282h1v1h-1zM805 282h1v1h-1zM870 282h1v1h-1zM923 282h1v1h-1zM249 281h1v1h-1zM617 281h1v1h-1zM725 281h1v1h-1zM769 281h1v1h-1zM806 281h1v1h-1zM869 281h1v1h-1zM924 281h1v1h-1zM249 280h1v1h-1zM617 280h1v1h-1zM726 280h1v1h-1zM769 280h1v1h-1zM806 280h1v1h-1zM869 280h1v1h-1zM924 280h1v1h-1zM250 279h1v1h-1zM616 279h1v1h-1zM726 279h1v1h-1zM768 279h1v1h-1zM807 279h1v1h-1zM869 279h1v1h-1zM925 279h1v1h-1zM250 278h1v1h-1zM616 278h1v1h-1zM727 278h1v1h-1zM767 278h1v1h-1zM807 278h1v1h-1zM868 278h1v1h-1zM925 278h1v1h-1zM251 277h2v1h-2zM330 277h1v1h-1zM615 277h1v1h-1zM728 277h1v1h-1zM766 277h1v1h-1zM808 277h1v1h-1zM868 277h1v1h-1zM925 277h1v1h-1zM253 276h2v1h-2zM328 276h2v1h-2zM331 276h2v1h-2zM614 276h1v1h-1zM729 276h1v1h-1zM766 276h1v1h-1zM808 276h1v1h-1zM867 276h1v1h-1zM926 276h1v1h-1zM255 275h2v1h-2zM326 275h2v1h-2zM333 275h2v1h-2zM614 275h1v1h-1zM730 275h1v1h-1zM765 275h1v1h-1zM809 275h1v1h-1zM867 275h1v1h-1zM926 275h1v1h-1zM257 274h5v1h-5zM325 274h1v1h-1zM335 274h2v1h-2zM613 274h1v1h-1zM731 274h2v1h-2zM764 274h1v1h-1zM809 274h1v1h-1zM866 274h1v1h-1zM926 274h1v1h-1zM262 273h13v1h-13zM323 273h2v1h-2zM337 273h2v1h-2zM612 273h1v1h-1zM733 273h2v1h-2zM763 273h1v1h-1zM810 273h1v1h-1zM866 273h1v1h-1zM927 273h1v1h-1zM275 272h1v1h-1zM322 272h1v1h-1zM339 272h2v1h-2zM612 272h1v1h-1zM735 272h2v1h-2zM763 272h1v1h-1zM811 272h1v1h-1zM866 272h1v1h-1zM927 272h1v1h-1zM276 271h1v1h-1zM321 271h1v1h-1zM341 271h2v1h-2zM611 271h1v1h-1zM737 271h3v1h-3zM752 271h11v1h-11zM812 271h1v1h-1zM865 271h1v1h-1zM927 271h1v1h-1zM277 270h1v1h-1zM321 270h1v1h-1zM343 270h2v1h-2zM611 270h1v1h-1zM740 270h4v1h-4zM748 270h4v1h-4zM813 270h1v1h-1zM865 270h1v1h-1zM928 270h1v1h-1zM278 269h1v1h-1zM320 269h1v1h-1zM345 269h2v1h-2zM610 269h1v1h-1zM744 269h4v1h-4zM814 269h1v1h-1zM864 269h1v1h-1zM928 269h1v1h-1zM278 268h1v1h-1zM319 268h1v1h-1zM347 268h1v1h-1zM609 268h1v1h-1zM814 268h1v1h-1zM864 268h1v1h-1zM929 268h1v1h-1zM279 267h1v1h-1zM319 267h1v1h-1zM348 267h1v1h-1zM609 267h1v1h-1zM815 267h1v1h-1zM863 267h1v1h-1zM929 267h1v1h-1zM280 266h1v1h-1zM318 266h1v1h-1zM349 266h1v1h-1zM425 266h2v1h-2zM608 266h1v1h-1zM816 266h1v1h-1zM863 266h1v1h-1zM929 266h1v1h-1zM281 265h1v1h-1zM317 265h1v1h-1zM350 265h1v1h-1zM423 265h2v1h-2zM427 265h2v1h-2zM607 265h1v1h-1zM817 265h1v1h-1zM862 265h1v1h-1zM930 265h1v1h-1zM282 264h2v1h-2zM317 264h1v1h-1zM351 264h1v1h-1zM421 264h2v1h-2zM429 264h1v1h-1zM607 264h1v1h-1zM818 264h1v1h-1zM862 264h1v1h-1zM930 264h1v1h-1zM284 263h2v1h-2zM316 263h1v1h-1zM352 263h1v1h-1zM419 263h2v1h-2zM430 263h2v1h-2zM606 263h1v1h-1zM819 263h1v1h-1zM861 263h1v1h-1zM931 263h1v1h-1zM970 263h4v1h-4zM286 262h3v1h-3zM294 262h6v1h-6zM315 262h1v1h-1zM353 262h1v1h-1zM418 262h1v1h-1zM432 262h2v1h-2zM605 262h1v1h-1zM819 262h1v1h-1zM861 262h1v1h-1zM932 262h1v1h-1zM968 262h2v1h-2zM974 262h8v1h-8zM289 261h5v1h-5zM300 261h2v1h-2zM315 261h1v1h-1zM354 261h1v1h-1zM417 261h1v1h-1zM434 261h1v1h-1zM605 261h1v1h-1zM820 261h1v1h-1zM860 261h1v1h-1zM933 261h1v1h-1zM967 261h1v1h-1zM982 261h5v1h-5zM302 260h3v1h-3zM310 260h5v1h-5zM355 260h1v1h-1zM416 260h1v1h-1zM435 260h1v1h-1zM604 260h1v1h-1zM821 260h1v1h-1zM860 260h1v1h-1zM934 260h1v1h-1zM966 260h1v1h-1zM987 260h1v1h-1zM305 259h5v1h-5zM356 259h1v1h-1zM414 259h2v1h-2zM436 259h1v1h-1zM603 259h1v1h-1zM821 259h1v1h-1zM859 259h1v1h-1zM934 259h1v1h-1zM964 259h2v1h-2zM987 259h1v1h-1zM356 258h1v1h-1zM413 258h1v1h-1zM436 258h1v1h-1zM520 258h3v1h-3zM603 258h1v1h-1zM822 258h1v1h-1zM859 258h1v1h-1zM935 258h1v1h-1zM963 258h1v1h-1zM988 258h1v1h-1zM357 257h1v1h-1zM412 257h1v1h-1zM437 257h1v1h-1zM516 257h4v1h-4zM523 257h2v1h-2zM602 257h1v1h-1zM823 257h1v1h-1zM858 257h1v1h-1zM936 257h1v1h-1zM962 257h1v1h-1zM989 257h1v1h-1zM358 256h1v1h-1zM411 256h1v1h-1zM438 256h1v1h-1zM513 256h3v1h-3zM525 256h1v1h-1zM601 256h1v1h-1zM823 256h1v1h-1zM858 256h1v1h-1zM937 256h1v1h-1zM960 256h2v1h-2zM990 256h1v1h-1zM359 255h1v1h-1zM410 255h1v1h-1zM439 255h1v1h-1zM511 255h2v1h-2zM526 255h2v1h-2zM536 255h6v1h-6zM600 255h1v1h-1zM824 255h1v1h-1zM856 255h2v1h-2zM938 255h1v1h-1zM959 255h1v1h-1zM990 255h1v1h-1zM360 254h1v1h-1zM409 254h1v1h-1zM440 254h1v1h-1zM509 254h2v1h-2zM528 254h2v1h-2zM532 254h4v1h-4zM542 254h5v1h-5zM600 254h1v1h-1zM825 254h1v1h-1zM855 254h1v1h-1zM939 254h1v1h-1zM958 254h1v1h-1zM991 254h1v1h-1zM360 253h1v1h-1zM409 253h1v1h-1zM440 253h1v1h-1zM507 253h2v1h-2zM530 253h2v1h-2zM547 253h1v1h-1zM599 253h1v1h-1zM825 253h1v1h-1zM854 253h1v1h-1zM940 253h1v1h-1zM956 253h2v1h-2zM992 253h1v1h-1zM361 252h1v1h-1zM408 252h1v1h-1zM441 252h1v1h-1zM506 252h1v1h-1zM548 252h1v1h-1zM598 252h1v1h-1zM826 252h1v1h-1zM852 252h2v1h-2zM940 252h1v1h-1zM955 252h1v1h-1zM993 252h1v1h-1zM362 251h1v1h-1zM407 251h1v1h-1zM442 251h1v1h-1zM505 251h1v1h-1zM549 251h1v1h-1zM597 251h1v1h-1zM827 251h1v1h-1zM851 251h1v1h-1zM941 251h1v1h-1zM954 251h1v1h-1zM993 251h1v1h-1zM363 250h1v1h-1zM406 250h1v1h-1zM443 250h1v1h-1zM505 250h1v1h-1zM550 250h1v1h-1zM596 250h1v1h-1zM828 250h2v1h-2zM849 250h2v1h-2zM942 250h1v1h-1zM952 250h2v1h-2zM994 250h1v1h-1zM363 249h1v1h-1zM406 249h1v1h-1zM444 249h1v1h-1zM504 249h1v1h-1zM551 249h1v1h-1zM596 249h1v1h-1zM830 249h1v1h-1zM846 249h3v1h-3zM943 249h1v1h-1zM951 249h1v1h-1zM995 249h1v1h-1zM364 248h1v1h-1zM405 248h1v1h-1zM445 248h1v1h-1zM503 248h1v1h-1zM552 248h1v1h-1zM595 248h1v1h-1zM831 248h1v1h-1zM844 248h2v1h-2zM944 248h1v1h-1zM950 248h1v1h-1zM996 248h2v1h-2zM365 247h1v1h-1zM404 247h1v1h-1zM446 247h2v1h-2zM503 247h1v1h-1zM553 247h1v1h-1zM570 247h10v1h-10zM592 247h3v1h-3zM832 247h2v1h-2zM838 247h6v1h-6zM944 247h1v1h-1zM948 247h2v1h-2zM998 247h1v1h-1zM366 246h1v1h-1zM403 246h1v1h-1zM448 246h1v1h-1zM502 246h1v1h-1zM554 246h1v1h-1zM568 246h2v1h-2zM580 246h4v1h-4zM588 246h4v1h-4zM834 246h4v1h-4zM945 246h1v1h-1zM947 246h1v1h-1zM999 246h1v1h-1zM366 245h1v1h-1zM403 245h1v1h-1zM449 245h1v1h-1zM501 245h1v1h-1zM555 245h2v1h-2zM566 245h2v1h-2zM584 245h4v1h-4zM946 245h1v1h-1zM1000 245h2v1h-2zM367 244h1v1h-1zM402 244h1v1h-1zM450 244h1v1h-1zM501 244h1v1h-1zM557 244h2v1h-2zM565 244h1v1h-1zM1002 244h4v1h-4zM1034 244h9v1h-9zM368 243h1v1h-1zM401 243h1v1h-1zM451 243h1v1h-1zM500 243h1v1h-1zM559 243h2v1h-2zM563 243h2v1h-2zM1006 243h6v1h-6zM1032 243h2v1h-2zM1043 243h1v1h-1zM369 242h1v1h-1zM400 242h1v1h-1zM451 242h1v1h-1zM499 242h1v1h-1zM561 242h2v1h-2zM1012 242h4v1h-4zM1030 242h2v1h-2zM1044 242h2v1h-2zM369 241h1v1h-1zM399 241h1v1h-1zM452 241h1v1h-1zM499 241h1v1h-1zM1016 241h4v1h-4zM1029 241h1v1h-1zM1046 241h1v1h-1zM370 240h1v1h-1zM398 240h1v1h-1zM453 240h1v1h-1zM498 240h1v1h-1zM1020 240h4v1h-4zM1027 240h2v1h-2zM1047 240h1v1h-1zM371 239h1v1h-1zM397 239h1v1h-1zM453 239h1v1h-1zM497 239h1v1h-1zM1024 239h3v1h-3zM1048 239h2v1h-2zM372 238h1v1h-1zM396 238h1v1h-1zM454 238h1v1h-1zM496 238h1v1h-1zM1050 238h1v1h-1zM373 237h1v1h-1zM395 237h1v1h-1zM455 237h1v1h-1zM495 237h1v1h-1zM1051 237h2v1h-2zM374 236h1v1h-1zM394 236h1v1h-1zM455 236h1v1h-1zM494 236h1v1h-1zM1053 236h2v1h-2zM375 235h1v1h-1zM392 235h2v1h-2zM456 235h1v1h-1zM494 235h1v1h-1zM1055 235h2v1h-2zM376 234h1v1h-1zM391 234h1v1h-1zM457 234h1v1h-1zM493 234h1v1h-1zM1057 234h2v1h-2zM377 233h1v1h-1zM390 233h1v1h-1zM457 233h1v1h-1zM492 233h1v1h-1zM1059 233h1v1h-1zM378 232h2v1h-2zM388 232h2v1h-2zM458 232h1v1h-1zM491 232h1v1h-1zM1060 232h1v1h-1zM380 231h4v1h-4zM387 231h1v1h-1zM459 231h1v1h-1zM490 231h1v1h-1zM1061 231h1v1h-1zM384 230h3v1h-3zM459 230h1v1h-1zM488 230h2v1h-2zM1062 230h2v1h-2zM460 229h1v1h-1zM487 229h1v1h-1zM1064 229h1v1h-1zM461 228h1v1h-1zM486 228h1v1h-1zM1065 228h1v1h-1zM461 227h1v1h-1zM484 227h2v1h-2zM1066 227h1v1h-1zM462 226h1v1h-1zM483 226h1v1h-1zM1067 226h1v1h-1zM463 225h1v1h-1zM482 225h1v1h-1zM1067 225h1v1h-1zM463 224h1v1h-1zM480 224h2v1h-2zM1068 224h1v1h-1zM464 223h1v1h-1zM479 223h1v1h-1zM1068 223h1v1h-1zM465 222h1v1h-1zM478 222h1v1h-1zM1069 222h1v1h-1zM465 221h1v1h-1zM476 221h2v1h-2zM1070 221h1v1h-1zM466 220h4v1h-4zM475 220h1v1h-1zM1070 220h1v1h-1zM470 219h5v1h-5zM1071 219h1v1h-1zM1072 218h1v1h-1zM1072 217h1v1h-1zM1073 216h1v1h-1zM1073 215h1v1h-1zM1074 214h1v1h-1zM1075 213h1v1h-1zM1076 212h1v1h-1zM1077 211h1v1h-1zM1078 210h1v1h-1zM1079 209h1v1h-1zM1080 208h1v1h-1zM1081 207h1v1h-1zM1082 206h1v1h-1zM1083 205h1v1h-1zM1083 204h1v1h-1zM1084 203h1v1h-1zM1085 202h1v1h-1zM1085 201h1v1h-1zM1086 200h1v1h-1zM1087 199h1v1h-1zM1087 198h1v1h-1zM1088 197h1v1h-1zM1089 196h1v1h-1zM1089 195h1v1h-1zM1090 194h1v1h-1zM1091 193h1v1h-1zM1091 192h1v1h-1zM1092 191h1v1h-1zM1092 190h1v1h-1zM1093 189h1v1h-1zM1093 188h1v1h-1zM1094 187h1v1h-1zM1094 186h1v1h-1zM1095 185h1v1h-1zM1095 184h1v1h-1zM1096 183h1v1h-1zM1096 182h1v1h-1zM1097 181h1v1h-1zM1097 180h1v1h-1zM1098 179h1v1h-1zM1098 178h1v1h-1zM1098 177h1v1h-1zM1099 176h1v1h-1zM1099 175h1v1h-1zM1100 174h1v1h-1zM1100 173h1v1h-1zM1101 172h1v1h-1zM1101 171h1v1h-1zM1101 170h1v1h-1zM1102 169h1v1h-1zM1102 168h1v1h-1zM1103 167h1v1h-1zM1103 166h1v1h-1zM1103 165h1v1h-1zM1104 164h1v1h-1zM1104 163h1v1h-1zM1105 162h1v1h-1zM1105 161h1v1h-1zM1106 160h1v1h-1zM1106 159h1v1h-1zM1106 158h1v1h-1zM1107 157h1v1h-1zM1107 156h1v1h-1zM1108 155h1v1h-1zM1108 154h1v1h-1zM1109 153h1v1h-1zM1109 152h1v1h-1zM1110 151h1v1h-1zM1110 150h1v1h-1zM1111 149h1v1h-1zM1111 148h1v1h-1zM1112 147h1v1h-1zM1112 146h1v1h-1zM1113 145h1v1h-1zM1113 144h1v1h-1zM1114 143h1v1h-1zM1114 142h1v1h-1zM1115 141h1v1h-1zM1115 140h1v1h-1zM1116 139h1v1h-1zM1116 138h1v1h-1zM1117 137h1v1h-1zM1117 136h1v1h-1zM1118 135h1v1h-1zM1118 134h1v1h-1zM1119 133h1v1h-1zM1119 132h1v1h-1zM1120 131h1v1h-1zM1120 130h1v1h-1zM1121 129h1v1h-1zM1121 128h1v1h-1zM1122 127h1v1h-1zM1168 127h6v1h-6zM1123 126h1v1h-1zM1164 126h4v1h-4zM1174 126h5v1h-5zM1124 125h1v1h-1zM1161 125h3v1h-3zM1179 125h1v1h-1zM1125 124h1v1h-1zM1158 124h3v1h-3zM1180 124h1v1h-1zM1126 123h1v1h-1zM1156 123h2v1h-2zM1181 123h1v1h-1zM1126 122h1v1h-1zM1146 122h10v1h-10zM1182 122h2v1h-2zM1127 121h1v1h-1zM1145 121h1v1h-1zM1184 121h1v1h-1zM1128 120h1v1h-1zM1144 120h1v1h-1zM1185 120h1v1h-1zM1129 119h1v1h-1zM1142 119h2v1h-2zM1186 119h1v1h-1zM1130 118h2v1h-2zM1141 118h1v1h-1zM1187 118h2v1h-2zM1132 117h2v1h-2zM1140 117h1v1h-1zM1189 117h1v1h-1zM1134 116h3v1h-3zM1139 116h1v1h-1zM1190 116h2v1h-2zM1137 115h2v1h-2zM1192 115h2v1h-2zM1194 114h1v1h-1zM1195 113h1v1h-1zM1195 112h1v1h-1zM1196 111h1v1h-1zM1197 110h1v1h-1zM1197 109h1v1h-1zM1198 108h1v1h-1zM1199 107h1v1h-1zM1199 106h1v1h-1zM1200 105h1v1h-1zM1201 104h1v1h-1zM1201 103h1v1h-1zM1202 102h1v1h-1zM1203 101h1v1h-1zM1203 100h1v1h-1zM1204 99h1v1h-1zM1205 98h1v1h-1zM1206 97h1v1h-1zM1206 96h1v1h-1zM1207 95h1v1h-1zM1208 94h1v1h-1zM1209 93h1v1h-1zM1209 92h1v1h-1zM1210 91h1v1h-1zM1211 90h1v1h-1zM1211 89h1v1h-1zM1212 88h1v1h-1zM1213 87h1v1h-1zM1214 86h1v1h-1zM1214 85h1v1h-1zM1215 84h1v1h-1zM1216 83h1v1h-1zM1242 83h1v1h-1zM1217 82h1v1h-1zM1240 82h2v1h-2zM1217 81h1v1h-1zM1239 81h1v1h-1zM1218 80h1v1h-1zM1238 80h1v1h-1zM1219 79h2v1h-2zM1236 79h2v1h-2zM1221 78h1v1h-1zM1235 78h1v1h-1zM1222 77h2v1h-2zM1232 77h3v1h-3zM1224 76h2v1h-2zM1228 76h4v1h-4zM1226 75h2v1h-2z" fill="#ffa500"/>
<path d="M5,34 h7 v1 h-1 v1 h-1 v1 h-1 v1 h-1 v-1 h-1 v-1 h-1 v-1 h-1 z" fill="#000"/>
<text x="17.4" y="39" font-size="10" fill="#000" textLength="63.3" lengthAdjust="spacingAndGlyphs" stroke="#000" stroke-width="0.25">EURUSD,Daily</text>
<text x="87.8" y="39" font-size="10" fill="#000" textLength="31.9" lengthAdjust="spacingAndGlyphs" stroke="#000" stroke-width="0.25">1.21735</text>
<text x="123.6" y="39" font-size="10" fill="#000" textLength="32.0" lengthAdjust="spacingAndGlyphs" stroke="#000" stroke-width="0.25">1.21868</text>
<text x="159.9" y="39" font-size="10" fill="#000" textLength="31.6" lengthAdjust="spacingAndGlyphs" stroke="#000" stroke-width="0.25">1.21513</text>
<text x="195.8" y="39" font-size="10" fill="#000" textLength="32.2" lengthAdjust="spacingAndGlyphs" stroke="#000" stroke-width="0.25">1.21786</text>
<rect x="2" y="39" width="1576" height="2" fill="#ff0000"/>
<rect x="1" y="37" width="6" height="6" fill="#ff0000"/>
<rect x="3" y="39" width="2" height="2" fill="#ffffff"/>
<rect x="1572" y="37" width="6" height="6" fill="#ff0000"/>
<rect x="1574" y="39" width="2" height="2" fill="#ffffff"/>
<rect x="2" y="84" width="1576" height="2" fill="#ff0000"/>
<rect x="1" y="82" width="6" height="6" fill="#ff0000"/>
<rect x="3" y="84" width="2" height="2" fill="#ffffff"/>
<rect x="1572" y="82" width="6" height="6" fill="#ff0000"/>
<rect x="1574" y="84" width="2" height="2" fill="#ffffff"/>
<rect x="2" y="129" width="1576" height="2" fill="#00ff00"/>
<rect x="1" y="127" width="6" height="6" fill="#00ff00"/>
<rect x="3" y="129" width="2" height="2" fill="#ffffff"/>
<rect x="1572" y="127" width="6" height="6" fill="#00ff00"/>
<rect x="1574" y="129" width="2" height="2" fill="#ffffff"/>
<rect x="2" y="175" width="1576" height="2" fill="#0000ff"/>
<rect x="1" y="173" width="6" height="6" fill="#0000ff"/>
<rect x="3" y="175" width="2" height="2" fill="#ffffff"/>
<rect x="1572" y="173" width="6" height="6" fill="#0000ff"/>
<rect x="1574" y="175" width="2" height="2" fill="#ffffff"/>
<rect x="2" y="219" width="1576" height="2" fill="#0000ff"/>
<rect x="1" y="217" width="6" height="6" fill="#0000ff"/>
<rect x="3" y="219" width="2" height="2" fill="#ffffff"/>
<rect x="1572" y="217" width="6" height="6" fill="#0000ff"/>
<rect x="1574" y="219" width="2" height="2" fill="#ffffff"/>
<rect x="1257" y="28" width="9" height="1" fill="#c0c0c0"/>
<rect x="1258" y="29" width="7" height="1" fill="#c0c0c0"/>
<rect x="1259" y="30" width="5" height="1" fill="#c0c0c0"/>
<rect x="1260" y="31" width="3" height="1" fill="#c0c0c0"/>
<rect x="1261" y="32" width="1" height="1" fill="#c0c0c0"/>
</g>
<rect x="1" y="37" width="6" height="6" fill="#ff0000"/>
<rect x="3" y="39" width="2" height="2" fill="#ffffff"/>
<rect x="1" y="82" width="6" height="6" fill="#ff0000"/>
<rect x="3" y="84" width="2" height="2" fill="#ffffff"/>
<rect x="1" y="127" width="6" height="6" fill="#00ff00"/>
<rect x="3" y="129" width="2" height="2" fill="#ffffff"/>
<rect x="1" y="173" width="6" height="6" fill="#0000ff"/>
<rect x="3" y="175" width="2" height="2" fill="#ffffff"/>
<rect x="1" y="217" width="6" height="6" fill="#0000ff"/>
<rect x="3" y="219" width="2" height="2" fill="#ffffff"/>
<rect x="1579" y="56" width="2" height="1" fill="#000"/>
<text x="1584.4" y="60" font-size="10" fill="#000" textLength="32.6" lengthAdjust="spacingAndGlyphs" stroke="#000" stroke-width="0.25">1.22650</text>
<rect x="1579" y="89" width="2" height="1" fill="#000"/>
<rect x="1579" y="122" width="2" height="1" fill="#000"/>
<text x="1584.4" y="126" font-size="10" fill="#000" textLength="32.6" lengthAdjust="spacingAndGlyphs" stroke="#000" stroke-width="0.25">1.21190</text>
<rect x="1579" y="155" width="2" height="1" fill="#000"/>
<text x="1584.4" y="159" font-size="10" fill="#000" textLength="32.6" lengthAdjust="spacingAndGlyphs" stroke="#000" stroke-width="0.25">1.20450</text>
<rect x="1579" y="188" width="2" height="1" fill="#000"/>
<text x="1584.4" y="192" font-size="10" fill="#000" textLength="32.6" lengthAdjust="spacingAndGlyphs" stroke="#000" stroke-width="0.25">1.19710</text>
<rect x="1579" y="221" width="2" height="1" fill="#000"/>
<rect x="1579" y="254" width="2" height="1" fill="#000"/>
<text x="1584.4" y="258" font-size="10" fill="#000" textLength="32.6" lengthAdjust="spacingAndGlyphs" stroke="#000" stroke-width="0.25">1.18250</text>
<rect x="1579" y="287" width="2" height="1" fill="#000"/>
<text x="1584.4" y="291" font-size="10" fill="#000" textLength="32.6" lengthAdjust="spacingAndGlyphs" stroke="#000" stroke-width="0.25">1.17510</text>
<rect x="1579" y="320" width="2" height="1" fill="#000"/>
<text x="1584.4" y="324" font-size="10" fill="#000" textLength="32.6" lengthAdjust="spacingAndGlyphs" stroke="#000" stroke-width="0.25">1.16770</text>
<rect x="1579" y="353" width="2" height="1" fill="#000"/>
<text x="1584.4" y="357" font-size="10" fill="#000" textLength="32.6" lengthAdjust="spacingAndGlyphs" stroke="#000" stroke-width="0.25">1.16030</text>
<rect x="1579" y="386" width="2" height="1" fill="#000"/>
<text x="1584.4" y="390" font-size="10" fill="#000" textLength="32.6" lengthAdjust="spacingAndGlyphs" stroke="#000" stroke-width="0.25">1.15310</text>
<rect x="1579" y="419" width="2" height="1" fill="#000"/>
<text x="1584.4" y="423" font-size="10" fill="#000" textLength="32.6" lengthAdjust="spacingAndGlyphs" stroke="#000" stroke-width="0.25">1.14570</text>
<rect x="1579" y="452" width="2" height="1" fill="#000"/>
<text x="1584.4" y="456" font-size="10" fill="#000" textLength="32.6" lengthAdjust="spacingAndGlyphs" stroke="#000" stroke-width="0.25">1.13830</text>
<rect x="1579" y="485" width="2" height="1" fill="#000"/>
<text x="1584.4" y="489" font-size="10" fill="#000" textLength="32.6" lengthAdjust="spacingAndGlyphs" stroke="#000" stroke-width="0.25">1.13090</text>
<rect x="1579" y="518" width="2" height="1" fill="#000"/>
<text x="1584.4" y="522" font-size="10" fill="#000" textLength="32.6" lengthAdjust="spacingAndGlyphs" stroke="#000" stroke-width="0.25">1.12370</text>
<rect x="1579" y="551" width="2" height="1" fill="#000"/>
<text x="1584.4" y="555" font-size="10" fill="#000" textLength="32.6" lengthAdjust="spacingAndGlyphs" stroke="#000" stroke-width="0.25">1.11630</text>
<rect x="1580" y="34" width="40" height="11" fill="#ff0000"/>
<text x="1584.4" y="43" font-size="10" fill="#fff" textLength="32.6" lengthAdjust="spacingAndGlyphs" stroke="#fff" stroke-width="0.25">1.23022</text>
<rect x="1580" y="79" width="40" height="11" fill="#ff0000"/>
<text x="1584.4" y="88" font-size="10" fill="#fff" textLength="32.6" lengthAdjust="spacingAndGlyphs" stroke="#fff" stroke-width="0.25">1.22012</text>
<rect x="1580" y="90" width="40" height="11" fill="#000000"/>
<text x="1584.4" y="99" font-size="10" fill="#fff" textLength="32.6" lengthAdjust="spacingAndGlyphs" stroke="#fff" stroke-width="0.25">1.21786</text>
<rect x="1580" y="124" width="40" height="11" fill="#00ff00"/>
<text x="1584.4" y="133" font-size="10" fill="#fff" textLength="32.6" lengthAdjust="spacingAndGlyphs" stroke="#fff" stroke-width="0.25">1.21000</text>
<rect x="1580" y="170" width="40" height="11" fill="#0000ff"/>
<text x="1584.4" y="179" font-size="10" fill="#fff" textLength="32.6" lengthAdjust="spacingAndGlyphs" stroke="#fff" stroke-width="0.25">1.19992</text>
<rect x="1580" y="214" width="40" height="11" fill="#0000ff"/>
<text x="1584.4" y="223" font-size="10" fill="#fff" textLength="32.6" lengthAdjust="spacingAndGlyphs" stroke="#fff" stroke-width="0.25">1.19008</text>
<g clip-path="url(#cr)">
<line x1="3" y1="586.5" x2="1578" y2="586.5" stroke="#c0c0c0" stroke-width="1" stroke-dasharray="3,3"/>
<line x1="3" y1="623.5" x2="1578" y2="623.5" stroke="#c0c0c0" stroke-width="1" stroke-dasharray="3,3"/>
<path d="M2 603h12v1h-12zM478 603h8v1h-8zM492 603h2v1h-2zM502 603h3v1h-3zM525 603h1v1h-1zM538 603h9v1h-9zM566 603h6v1h-6zM582 603h2v1h-2zM595 603h1v1h-1zM697 603h1v1h-1zM710 603h6v1h-6zM724 603h1v1h-1zM749 603h1v1h-1zM793 603h1v1h-1zM854 603h1v1h-1zM910 603h1v1h-1zM950 603h1v1h-1zM959 603h2v1h-2zM1032 603h2v1h-2zM1035 603h1v1h-1zM14 602h14v1h-14zM49 602h3v1h-3zM394 602h4v1h-4zM474 602h4v1h-4zM494 602h3v1h-3zM500 602h2v1h-2zM526 602h1v1h-1zM536 602h2v1h-2zM547 602h2v1h-2zM561 602h5v1h-5zM584 602h2v1h-2zM595 602h1v1h-1zM698 602h12v1h-12zM725 602h1v1h-1zM748 602h1v1h-1zM794 602h2v1h-2zM853 602h1v1h-1zM911 602h1v1h-1zM948 602h2v1h-2zM961 602h5v1h-5zM1030 602h2v1h-2zM1036 602h2v1h-2zM28 601h4v1h-4zM46 601h3v1h-3zM52 601h4v1h-4zM393 601h1v1h-1zM398 601h6v1h-6zM473 601h1v1h-1zM497 601h3v1h-3zM527 601h1v1h-1zM534 601h2v1h-2zM549 601h2v1h-2zM558 601h3v1h-3zM586 601h9v1h-9zM726 601h2v1h-2zM747 601h1v1h-1zM796 601h2v1h-2zM841 601h3v1h-3zM852 601h1v1h-1zM912 601h1v1h-1zM947 601h1v1h-1zM966 601h8v1h-8zM1029 601h1v1h-1zM1038 601h1v1h-1zM32 600h6v1h-6zM44 600h2v1h-2zM56 600h11v1h-11zM392 600h1v1h-1zM404 600h4v1h-4zM422 600h6v1h-6zM473 600h1v1h-1zM528 600h1v1h-1zM533 600h1v1h-1zM551 600h2v1h-2zM556 600h2v1h-2zM728 600h1v1h-1zM744 600h3v1h-3zM798 600h3v1h-3zM839 600h2v1h-2zM844 600h4v1h-4zM851 600h1v1h-1zM913 600h1v1h-1zM938 600h9v1h-9zM974 600h13v1h-13zM1009 600h5v1h-5zM1027 600h2v1h-2zM1039 600h1v1h-1zM38 599h6v1h-6zM67 599h2v1h-2zM113 599h2v1h-2zM392 599h1v1h-1zM408 599h14v1h-14zM428 599h2v1h-2zM472 599h1v1h-1zM529 599h1v1h-1zM531 599h2v1h-2zM553 599h3v1h-3zM729 599h1v1h-1zM740 599h4v1h-4zM801 599h2v1h-2zM818 599h4v1h-4zM837 599h2v1h-2zM848 599h3v1h-3zM914 599h1v1h-1zM936 599h2v1h-2zM987 599h2v1h-2zM1007 599h2v1h-2zM1014 599h13v1h-13zM1040 599h2v1h-2zM69 598h1v1h-1zM110 598h3v1h-3zM115 598h1v1h-1zM391 598h1v1h-1zM430 598h3v1h-3zM472 598h1v1h-1zM530 598h1v1h-1zM730 598h10v1h-10zM803 598h2v1h-2zM816 598h2v1h-2zM822 598h8v1h-8zM835 598h2v1h-2zM915 598h2v1h-2zM934 598h2v1h-2zM989 598h2v1h-2zM1005 598h2v1h-2zM1042 598h2v1h-2zM70 597h2v1h-2zM98 597h4v1h-4zM108 597h2v1h-2zM116 597h1v1h-1zM390 597h1v1h-1zM433 597h2v1h-2zM471 597h1v1h-1zM805 597h1v1h-1zM814 597h2v1h-2zM830 597h5v1h-5zM917 597h2v1h-2zM933 597h1v1h-1zM991 597h2v1h-2zM1003 597h2v1h-2zM1044 597h2v1h-2zM72 596h2v1h-2zM78 596h5v1h-5zM96 596h2v1h-2zM102 596h6v1h-6zM117 596h1v1h-1zM389 596h1v1h-1zM435 596h2v1h-2zM471 596h1v1h-1zM806 596h2v1h-2zM813 596h1v1h-1zM919 596h2v1h-2zM931 596h2v1h-2zM993 596h10v1h-10zM1046 596h3v1h-3zM74 595h4v1h-4zM83 595h2v1h-2zM94 595h2v1h-2zM118 595h1v1h-1zM313 595h3v1h-3zM388 595h1v1h-1zM437 595h1v1h-1zM470 595h1v1h-1zM808 595h2v1h-2zM811 595h2v1h-2zM921 595h10v1h-10zM1049 595h11v1h-11zM85 594h2v1h-2zM93 594h1v1h-1zM119 594h1v1h-1zM311 594h2v1h-2zM316 594h4v1h-4zM388 594h1v1h-1zM438 594h2v1h-2zM469 594h1v1h-1zM810 594h1v1h-1zM1060 594h2v1h-2zM1234 594h4v1h-4zM87 593h2v1h-2zM91 593h2v1h-2zM120 593h1v1h-1zM309 593h2v1h-2zM320 593h4v1h-4zM387 593h1v1h-1zM440 593h2v1h-2zM469 593h1v1h-1zM1062 593h3v1h-3zM1233 593h1v1h-1zM1238 593h5v1h-5zM89 592h2v1h-2zM121 592h1v1h-1zM307 592h2v1h-2zM324 592h4v1h-4zM386 592h1v1h-1zM442 592h9v1h-9zM468 592h1v1h-1zM1065 592h5v1h-5zM1232 592h1v1h-1zM122 591h2v1h-2zM298 591h9v1h-9zM328 591h4v1h-4zM384 591h2v1h-2zM451 591h2v1h-2zM468 591h1v1h-1zM1070 591h8v1h-8zM1146 591h1v1h-1zM1161 591h11v1h-11zM1230 591h2v1h-2zM124 590h2v1h-2zM297 590h1v1h-1zM332 590h4v1h-4zM382 590h2v1h-2zM453 590h2v1h-2zM467 590h1v1h-1zM1078 590h5v1h-5zM1144 590h2v1h-2zM1147 590h2v1h-2zM1159 590h2v1h-2zM1172 590h4v1h-4zM1229 590h1v1h-1zM126 589h3v1h-3zM296 589h1v1h-1zM336 589h6v1h-6zM381 589h1v1h-1zM455 589h2v1h-2zM467 589h1v1h-1zM1083 589h2v1h-2zM1142 589h2v1h-2zM1149 589h2v1h-2zM1157 589h2v1h-2zM1176 589h4v1h-4zM1228 589h1v1h-1zM129 588h11v1h-11zM295 588h1v1h-1zM342 588h14v1h-14zM379 588h2v1h-2zM457 588h10v1h-10zM1085 588h1v1h-1zM1141 588h1v1h-1zM1151 588h2v1h-2zM1155 588h2v1h-2zM1180 588h4v1h-4zM1227 588h1v1h-1zM140 587h4v1h-4zM294 587h1v1h-1zM356 587h4v1h-4zM377 587h2v1h-2zM1086 587h2v1h-2zM1139 587h2v1h-2zM1153 587h2v1h-2zM1184 587h4v1h-4zM1225 587h2v1h-2zM144 586h27v1h-27zM294 586h1v1h-1zM360 586h4v1h-4zM375 586h2v1h-2zM1088 586h2v1h-2zM1137 586h2v1h-2zM1188 586h4v1h-4zM1223 586h2v1h-2zM171 585h2v1h-2zM293 585h1v1h-1zM364 585h2v1h-2zM373 585h2v1h-2zM1090 585h2v1h-2zM1134 585h3v1h-3zM1192 585h4v1h-4zM1221 585h2v1h-2zM173 584h1v1h-1zM292 584h1v1h-1zM366 584h3v1h-3zM371 584h2v1h-2zM1092 584h4v1h-4zM1132 584h2v1h-2zM1196 584h2v1h-2zM1219 584h2v1h-2zM174 583h2v1h-2zM266 583h4v1h-4zM291 583h1v1h-1zM369 583h2v1h-2zM1096 583h3v1h-3zM1120 583h12v1h-12zM1198 583h3v1h-3zM1206 583h13v1h-13zM176 582h2v1h-2zM265 582h1v1h-1zM270 582h5v1h-5zM290 582h1v1h-1zM1099 582h2v1h-2zM1116 582h4v1h-4zM1201 582h5v1h-5zM178 581h1v1h-1zM264 581h1v1h-1zM275 581h2v1h-2zM288 581h2v1h-2zM1101 581h1v1h-1zM1113 581h3v1h-3zM179 580h2v1h-2zM263 580h1v1h-1zM277 580h1v1h-1zM286 580h2v1h-2zM1102 580h2v1h-2zM1110 580h3v1h-3zM181 579h1v1h-1zM262 579h1v1h-1zM278 579h2v1h-2zM285 579h1v1h-1zM1104 579h2v1h-2zM1108 579h2v1h-2zM182 578h2v1h-2zM261 578h1v1h-1zM280 578h2v1h-2zM283 578h2v1h-2zM1106 578h2v1h-2zM184 577h2v1h-2zM260 577h1v1h-1zM282 577h1v1h-1zM186 576h2v1h-2zM259 576h1v1h-1zM188 575h4v1h-4zM258 575h1v1h-1zM192 574h19v1h-19zM256 574h2v1h-2zM211 573h2v1h-2zM225 573h5v1h-5zM254 573h2v1h-2zM213 572h2v1h-2zM222 572h3v1h-3zM230 572h8v1h-8zM253 572h1v1h-1zM215 571h2v1h-2zM220 571h2v1h-2zM238 571h8v1h-8zM251 571h2v1h-2zM217 570h3v1h-3zM246 570h5v1h-5zM486 604h6v1h-6zM505 604h3v1h-3zM524 604h1v1h-1zM572 604h2v1h-2zM581 604h1v1h-1zM596 604h1v1h-1zM696 604h1v1h-1zM716 604h4v1h-4zM723 604h1v1h-1zM750 604h2v1h-2zM792 604h1v1h-1zM854 604h1v1h-1zM910 604h1v1h-1zM951 604h1v1h-1zM957 604h2v1h-2zM1034 604h1v1h-1zM508 605h2v1h-2zM523 605h1v1h-1zM574 605h3v1h-3zM579 605h2v1h-2zM597 605h1v1h-1zM694 605h2v1h-2zM720 605h3v1h-3zM752 605h1v1h-1zM790 605h2v1h-2zM855 605h1v1h-1zM909 605h1v1h-1zM952 605h2v1h-2zM955 605h2v1h-2zM510 606h3v1h-3zM518 606h5v1h-5zM577 606h2v1h-2zM597 606h1v1h-1zM672 606h3v1h-3zM693 606h1v1h-1zM753 606h1v1h-1zM758 606h5v1h-5zM789 606h1v1h-1zM856 606h1v1h-1zM898 606h2v1h-2zM908 606h1v1h-1zM954 606h1v1h-1zM513 607h5v1h-5zM598 607h1v1h-1zM668 607h4v1h-4zM675 607h2v1h-2zM692 607h1v1h-1zM754 607h4v1h-4zM763 607h2v1h-2zM788 607h1v1h-1zM857 607h1v1h-1zM897 607h1v1h-1zM900 607h4v1h-4zM907 607h1v1h-1zM599 608h1v1h-1zM664 608h4v1h-4zM677 608h1v1h-1zM691 608h1v1h-1zM765 608h1v1h-1zM787 608h1v1h-1zM858 608h1v1h-1zM897 608h1v1h-1zM904 608h3v1h-3zM599 609h1v1h-1zM660 609h4v1h-4zM678 609h2v1h-2zM688 609h3v1h-3zM766 609h2v1h-2zM776 609h11v1h-11zM859 609h1v1h-1zM896 609h1v1h-1zM600 610h1v1h-1zM658 610h2v1h-2zM680 610h2v1h-2zM684 610h4v1h-4zM768 610h2v1h-2zM772 610h4v1h-4zM860 610h1v1h-1zM895 610h1v1h-1zM601 611h1v1h-1zM657 611h1v1h-1zM682 611h2v1h-2zM770 611h2v1h-2zM861 611h1v1h-1zM895 611h1v1h-1zM601 612h1v1h-1zM656 612h1v1h-1zM862 612h2v1h-2zM894 612h1v1h-1zM602 613h1v1h-1zM654 613h2v1h-2zM864 613h1v1h-1zM893 613h1v1h-1zM603 614h2v1h-2zM653 614h1v1h-1zM865 614h1v1h-1zM893 614h1v1h-1zM605 615h2v1h-2zM652 615h1v1h-1zM866 615h2v1h-2zM892 615h1v1h-1zM607 616h2v1h-2zM651 616h1v1h-1zM868 616h4v1h-4zM891 616h1v1h-1zM609 617h5v1h-5zM650 617h1v1h-1zM872 617h14v1h-14zM891 617h1v1h-1zM614 618h8v1h-8zM648 618h2v1h-2zM886 618h5v1h-5zM622 619h6v1h-6zM646 619h2v1h-2zM628 620h2v1h-2zM645 620h1v1h-1zM630 621h3v1h-3zM643 621h2v1h-2zM633 622h10v1h-10z" fill="#1e90ff"/>
</g>
<text x="6" y="569" font-size="10" fill="#000" textLength="68" lengthAdjust="spacingAndGlyphs" stroke="#000" stroke-width="0.25">RSI(14) 62.2168</text>
<text x="1582.3" y="567.1" font-size="10" fill="#000" textLength="15" lengthAdjust="spacingAndGlyphs" stroke="#000" stroke-width="0.25">100</text>
<text x="1582.3" y="590.3" font-size="10" fill="#000" textLength="10" lengthAdjust="spacingAndGlyphs" stroke="#000" stroke-width="0.25">70</text>
<text x="1582.3" y="627.1" font-size="10" fill="#000" textLength="10" lengthAdjust="spacingAndGlyphs" stroke="#000" stroke-width="0.25">30</text>
<text x="1582.3" y="649.2" font-size="10" fill="#000" textLength="5" lengthAdjust="spacingAndGlyphs" stroke="#000" stroke-width="0.25">0</text>
<rect x="1579" y="557" width="2" height="1" fill="#000"/>
<rect x="1579" y="651" width="2" height="1" fill="#000"/>
<g clip-path="url(#cd)">
<rect x="2" y="701" width="1" height="24" fill="#c0c0c0"/>
<rect x="10" y="705" width="1" height="20" fill="#c0c0c0"/>
<rect x="18" y="707" width="1" height="18" fill="#c0c0c0"/>
<rect x="26" y="708" width="1" height="17" fill="#c0c0c0"/>
<rect x="34" y="710" width="1" height="15" fill="#c0c0c0"/>
<rect x="42" y="710" width="1" height="15" fill="#c0c0c0"/>
<rect x="50" y="711" width="1" height="14" fill="#c0c0c0"/>
<rect x="58" y="712" width="1" height="13" fill="#c0c0c0"/>
<rect x="66" y="713" width="1" height="12" fill="#c0c0c0"/>
<rect x="74" y="711" width="1" height="14" fill="#c0c0c0"/>
<rect x="82" y="711" width="1" height="14" fill="#c0c0c0"/>
<rect x="90" y="709" width="1" height="16" fill="#c0c0c0"/>
<rect x="98" y="709" width="1" height="16" fill="#c0c0c0"/>
<rect x="106" y="709" width="1" height="16" fill="#c0c0c0"/>
<rect x="114" y="708" width="1" height="17" fill="#c0c0c0"/>
<rect x="122" y="707" width="1" height="18" fill="#c0c0c0"/>
<rect x="130" y="704" width="1" height="21" fill="#c0c0c0"/>
<rect x="138" y="702" width="1" height="23" fill="#c0c0c0"/>
<rect x="146" y="700" width="1" height="25" fill="#c0c0c0"/>
<rect x="154" y="698" width="1" height="27" fill="#c0c0c0"/>
<rect x="162" y="697" width="1" height="28" fill="#c0c0c0"/>
<rect x="170" y="697" width="1" height="28" fill="#c0c0c0"/>
<rect x="178" y="694" width="1" height="31" fill="#c0c0c0"/>
<rect x="186" y="689" width="1" height="36" fill="#c0c0c0"/>
<rect x="194" y="685" width="1" height="40" fill="#c0c0c0"/>
<rect x="202" y="681" width="1" height="44" fill="#c0c0c0"/>
<rect x="210" y="678" width="1" height="47" fill="#c0c0c0"/>
<rect x="218" y="673" width="1" height="52" fill="#c0c0c0"/>
<rect x="226" y="669" width="1" height="56" fill="#c0c0c0"/>
<rect x="234" y="666" width="1" height="59" fill="#c0c0c0"/>
<rect x="242" y="663" width="1" height="62" fill="#c0c0c0"/>
<rect x="250" y="661" width="1" height="64" fill="#c0c0c0"/>
<rect x="258" y="661" width="1" height="64" fill="#c0c0c0"/>
<rect x="266" y="663" width="1" height="62" fill="#c0c0c0"/>
<rect x="274" y="664" width="1" height="61" fill="#c0c0c0"/>
<rect x="282" y="663" width="1" height="62" fill="#c0c0c0"/>
<rect x="290" y="664" width="1" height="61" fill="#c0c0c0"/>
<rect x="298" y="666" width="1" height="59" fill="#c0c0c0"/>
<rect x="306" y="669" width="1" height="56" fill="#c0c0c0"/>
<rect x="314" y="673" width="1" height="52" fill="#c0c0c0"/>
<rect x="322" y="677" width="1" height="48" fill="#c0c0c0"/>
<rect x="330" y="679" width="1" height="46" fill="#c0c0c0"/>
<rect x="338" y="681" width="1" height="44" fill="#c0c0c0"/>
<rect x="346" y="682" width="1" height="43" fill="#c0c0c0"/>
<rect x="354" y="683" width="1" height="42" fill="#c0c0c0"/>
<rect x="362" y="683" width="1" height="42" fill="#c0c0c0"/>
<rect x="370" y="681" width="1" height="44" fill="#c0c0c0"/>
<rect x="378" y="682" width="1" height="43" fill="#c0c0c0"/>
<rect x="386" y="684" width="1" height="41" fill="#c0c0c0"/>
<rect x="394" y="689" width="1" height="36" fill="#c0c0c0"/>
<rect x="402" y="693" width="1" height="32" fill="#c0c0c0"/>
<rect x="410" y="696" width="1" height="29" fill="#c0c0c0"/>
<rect x="418" y="699" width="1" height="26" fill="#c0c0c0"/>
<rect x="426" y="701" width="1" height="24" fill="#c0c0c0"/>
<rect x="434" y="702" width="1" height="23" fill="#c0c0c0"/>
<rect x="442" y="701" width="1" height="24" fill="#c0c0c0"/>
<rect x="450" y="700" width="1" height="25" fill="#c0c0c0"/>
<rect x="458" y="697" width="1" height="28" fill="#c0c0c0"/>
<rect x="466" y="697" width="1" height="28" fill="#c0c0c0"/>
<rect x="474" y="700" width="1" height="25" fill="#c0c0c0"/>
<rect x="482" y="703" width="1" height="22" fill="#c0c0c0"/>
<rect x="490" y="706" width="1" height="19" fill="#c0c0c0"/>
<rect x="498" y="708" width="1" height="17" fill="#c0c0c0"/>
<rect x="506" y="710" width="1" height="15" fill="#c0c0c0"/>
<rect x="514" y="714" width="1" height="11" fill="#c0c0c0"/>
<rect x="522" y="716" width="1" height="9" fill="#c0c0c0"/>
<rect x="530" y="715" width="1" height="10" fill="#c0c0c0"/>
<rect x="538" y="716" width="1" height="9" fill="#c0c0c0"/>
<rect x="546" y="717" width="1" height="8" fill="#c0c0c0"/>
<rect x="554" y="716" width="1" height="9" fill="#c0c0c0"/>
<rect x="562" y="717" width="1" height="8" fill="#c0c0c0"/>
<rect x="570" y="718" width="1" height="7" fill="#c0c0c0"/>
<rect x="578" y="719" width="1" height="6" fill="#c0c0c0"/>
<rect x="586" y="719" width="1" height="6" fill="#c0c0c0"/>
<rect x="594" y="719" width="1" height="6" fill="#c0c0c0"/>
<rect x="602" y="723" width="1" height="2" fill="#c0c0c0"/>
<rect x="610" y="724" width="1" height="3" fill="#c0c0c0"/>
<rect x="618" y="724" width="1" height="8" fill="#c0c0c0"/>
<rect x="626" y="724" width="1" height="12" fill="#c0c0c0"/>
<rect x="634" y="724" width="1" height="17" fill="#c0c0c0"/>
<rect x="642" y="724" width="1" height="20" fill="#c0c0c0"/>
<rect x="650" y="724" width="1" height="20" fill="#c0c0c0"/>
<rect x="658" y="724" width="1" height="20" fill="#c0c0c0"/>
<rect x="666" y="724" width="1" height="18" fill="#c0c0c0"/>
<rect x="674" y="724" width="1" height="15" fill="#c0c0c0"/>
<rect x="682" y="724" width="1" height="15" fill="#c0c0c0"/>
<rect x="690" y="724" width="1" height="14" fill="#c0c0c0"/>
<rect x="698" y="724" width="1" height="10" fill="#c0c0c0"/>
<rect x="706" y="724" width="1" height="8" fill="#c0c0c0"/>
<rect x="714" y="724" width="1" height="6" fill="#c0c0c0"/>
<rect x="722" y="724" width="1" height="5" fill="#c0c0c0"/>
<rect x="730" y="724" width="1" height="2" fill="#c0c0c0"/>
<rect x="738" y="724" width="1" height="1" fill="#c0c0c0"/>
<rect x="746" y="723" width="1" height="2" fill="#c0c0c0"/>
<rect x="754" y="724" width="1" height="1" fill="#c0c0c0"/>
<rect x="770" y="724" width="1" height="2" fill="#c0c0c0"/>
<rect x="778" y="724" width="1" height="2" fill="#c0c0c0"/>
<rect x="786" y="724" width="1" height="4" fill="#c0c0c0"/>
<rect x="794" y="724" width="1" height="2" fill="#c0c0c0"/>
<rect x="802" y="724" width="1" height="2" fill="#c0c0c0"/>
<rect x="810" y="720" width="1" height="5" fill="#c0c0c0"/>
<rect x="818" y="719" width="1" height="6" fill="#c0c0c0"/>
<rect x="826" y="717" width="1" height="8" fill="#c0c0c0"/>
<rect x="834" y="715" width="1" height="10" fill="#c0c0c0"/>
<rect x="842" y="716" width="1" height="9" fill="#c0c0c0"/>
<rect x="850" y="715" width="1" height="10" fill="#c0c0c0"/>
<rect x="858" y="718" width="1" height="7" fill="#c0c0c0"/>
<rect x="866" y="724" width="1" height="1" fill="#c0c0c0"/>
<rect x="874" y="724" width="1" height="4" fill="#c0c0c0"/>
<rect x="882" y="724" width="1" height="8" fill="#c0c0c0"/>
<rect x="890" y="724" width="1" height="12" fill="#c0c0c0"/>
<rect x="898" y="724" width="1" height="10" fill="#c0c0c0"/>
<rect x="906" y="724" width="1" height="10" fill="#c0c0c0"/>
<rect x="914" y="724" width="1" height="3" fill="#c0c0c0"/>
<rect x="930" y="721" width="1" height="4" fill="#c0c0c0"/>
<rect x="938" y="719" width="1" height="6" fill="#c0c0c0"/>
<rect x="946" y="718" width="1" height="7" fill="#c0c0c0"/>
<rect x="954" y="720" width="1" height="5" fill="#c0c0c0"/>
<rect x="962" y="719" width="1" height="6" fill="#c0c0c0"/>
<rect x="970" y="719" width="1" height="6" fill="#c0c0c0"/>
<rect x="978" y="717" width="1" height="8" fill="#c0c0c0"/>
<rect x="986" y="717" width="1" height="8" fill="#c0c0c0"/>
<rect x="994" y="715" width="1" height="10" fill="#c0c0c0"/>
<rect x="1002" y="713" width="1" height="12" fill="#c0c0c0"/>
<rect x="1010" y="714" width="1" height="11" fill="#c0c0c0"/>
<rect x="1018" y="713" width="1" height="12" fill="#c0c0c0"/>
<rect x="1026" y="713" width="1" height="12" fill="#c0c0c0"/>
<rect x="1034" y="714" width="1" height="11" fill="#c0c0c0"/>
<rect x="1042" y="714" width="1" height="11" fill="#c0c0c0"/>
<rect x="1050" y="713" width="1" height="12" fill="#c0c0c0"/>
<rect x="1058" y="711" width="1" height="14" fill="#c0c0c0"/>
<rect x="1066" y="709" width="1" height="16" fill="#c0c0c0"/>
<rect x="1074" y="707" width="1" height="18" fill="#c0c0c0"/>
<rect x="1082" y="705" width="1" height="20" fill="#c0c0c0"/>
<rect x="1090" y="702" width="1" height="23" fill="#c0c0c0"/>
<rect x="1098" y="697" width="1" height="28" fill="#c0c0c0"/>
<rect x="1106" y="691" width="1" height="34" fill="#c0c0c0"/>
<rect x="1114" y="687" width="1" height="38" fill="#c0c0c0"/>
<rect x="1122" y="685" width="1" height="40" fill="#c0c0c0"/>
<rect x="1130" y="684" width="1" height="41" fill="#c0c0c0"/>
<rect x="1138" y="684" width="1" height="41" fill="#c0c0c0"/>
<rect x="1146" y="686" width="1" height="39" fill="#c0c0c0"/>
<rect x="1154" y="686" width="1" height="39" fill="#c0c0c0"/>
<rect x="1162" y="687" width="1" height="38" fill="#c0c0c0"/>
<rect x="1170" y="688" width="1" height="37" fill="#c0c0c0"/>
<rect x="1178" y="689" width="1" height="36" fill="#c0c0c0"/>
<rect x="1186" y="689" width="1" height="36" fill="#c0c0c0"/>
<rect x="1194" y="689" width="1" height="36" fill="#c0c0c0"/>
<rect x="1202" y="687" width="1" height="38" fill="#c0c0c0"/>
<rect x="1210" y="685" width="1" height="40" fill="#c0c0c0"/>
<rect x="1218" y="684" width="1" height="41" fill="#c0c0c0"/>
<rect x="1226" y="687" width="1" height="38" fill="#c0c0c0"/>
<rect x="1234" y="688" width="1" height="37" fill="#c0c0c0"/>
<rect x="1242" y="691" width="1" height="34" fill="#c0c0c0"/>
<path d="M2 694h2v1h-2zM196 694h1v1h-1zM446 694h2v1h-2zM1136 694h1v1h-1zM4 695h1v1h-1zM194 695h2v1h-2zM448 695h1v1h-1zM1132 695h1v1h-1zM8 696h3v1h-3zM190 696h1v1h-1zM452 696h3v1h-3zM1130 696h2v1h-2zM14 698h3v1h-3zM184 698h1v1h-1zM464 698h3v1h-3zM470 698h3v1h-3zM476 698h2v1h-2zM1124 698h2v1h-2zM20 700h3v1h-3zM176 700h3v1h-3zM484 700h1v1h-1zM1118 700h3v1h-3zM26 701h3v1h-3zM172 701h1v1h-1zM488 701h3v1h-3zM32 702h3v1h-3zM166 702h1v1h-1zM170 702h2v1h-2zM494 702h3v1h-3zM500 702h3v1h-3zM506 702h3v1h-3zM1112 702h3v1h-3zM38 703h3v1h-3zM158 703h3v1h-3zM164 703h2v1h-2zM512 703h3v1h-3zM1108 703h1v1h-1zM44 704h3v1h-3zM152 704h3v1h-3zM518 704h2v1h-2zM1106 704h2v1h-2zM50 705h3v1h-3zM148 705h1v1h-1zM520 705h1v1h-1zM56 706h3v1h-3zM142 706h1v1h-1zM146 706h2v1h-2zM524 706h3v1h-3zM1101 706h2v1h-2zM62 707h3v1h-3zM134 707h3v1h-3zM140 707h2v1h-2zM530 707h2v1h-2zM1100 707h1v1h-1zM68 708h3v1h-3zM128 708h3v1h-3zM532 708h1v1h-1zM1094 708h3v1h-3zM74 709h3v1h-3zM80 709h3v1h-3zM110 709h3v1h-3zM116 709h3v1h-3zM122 709h3v1h-3zM536 709h3v1h-3zM1088 709h3v1h-3zM86 710h3v1h-3zM92 710h3v1h-3zM98 710h3v1h-3zM104 710h3v1h-3zM542 710h2v1h-2zM1084 710h1v1h-1zM182 699h2v1h-2zM478 699h1v1h-1zM482 699h2v1h-2zM188 697h2v1h-2zM458 697h3v1h-3zM1126 697h1v1h-1zM200 693h3v1h-3zM440 693h3v1h-3zM1137 693h2v1h-2zM206 692h2v1h-2zM436 692h1v1h-1zM208 691h1v1h-1zM434 691h2v1h-2zM1142 691h3v1h-3zM212 690h1v1h-1zM428 690h3v1h-3zM213 689h2v1h-2zM424 689h1v1h-1zM1148 689h3v1h-3zM218 687h2v1h-2zM416 687h3v1h-3zM1156 687h1v1h-1zM220 686h1v1h-1zM412 686h1v1h-1zM1160 686h3v1h-3zM1190 686h3v1h-3zM1196 686h3v1h-3zM1202 686h3v1h-3zM1208 686h3v1h-3zM1214 686h3v1h-3zM1220 686h3v1h-3zM1226 686h3v1h-3zM1232 686h3v1h-3zM1238 686h3v1h-3zM224 685h3v1h-3zM410 685h2v1h-2zM1166 685h3v1h-3zM1172 685h3v1h-3zM1178 685h3v1h-3zM1184 685h3v1h-3zM230 683h1v1h-1zM404 683h2v1h-2zM231 682h2v1h-2zM392 682h3v1h-3zM398 682h3v1h-3zM236 680h1v1h-1zM380 680h3v1h-3zM237 679h2v1h-2zM374 679h3v1h-3zM242 677h2v1h-2zM364 677h1v1h-1zM244 676h1v1h-1zM362 676h2v1h-2zM248 675h1v1h-1zM356 675h3v1h-3zM249 674h2v1h-2zM352 674h1v1h-1zM254 672h3v1h-3zM345 672h2v1h-2zM260 670h2v1h-2zM340 670h1v1h-1zM262 669h1v1h-1zM338 669h2v1h-2zM266 668h2v1h-2zM332 668h3v1h-3zM268 667h1v1h-1zM326 667h3v1h-3zM272 666h3v1h-3zM320 666h3v1h-3zM278 665h3v1h-3zM316 665h1v1h-1zM284 664h3v1h-3zM314 664h2v1h-2zM290 663h3v1h-3zM308 663h3v1h-3zM296 662h3v1h-3zM302 662h3v1h-3zM344 671h1v1h-1zM350 673h2v1h-2zM368 678h3v1h-3zM386 681h3v1h-3zM406 684h1v1h-1zM422 688h2v1h-2zM1154 688h2v1h-2zM544 711h1v1h-1zM548 711h2v1h-2zM1078 711h1v1h-1zM1082 711h2v1h-2zM550 712h1v1h-1zM554 712h3v1h-3zM1054 712h1v1h-1zM1058 712h3v1h-3zM1064 712h3v1h-3zM1070 712h3v1h-3zM1076 712h2v1h-2zM560 713h3v1h-3zM1046 713h3v1h-3zM1052 713h2v1h-2zM566 714h2v1h-2zM1030 714h1v1h-1zM1034 714h3v1h-3zM1040 714h3v1h-3zM568 715h1v1h-1zM572 715h3v1h-3zM578 715h2v1h-2zM1022 715h3v1h-3zM1028 715h2v1h-2zM580 716h1v1h-1zM998 716h3v1h-3zM1004 716h3v1h-3zM1010 716h3v1h-3zM1016 716h3v1h-3zM584 717h3v1h-3zM590 717h3v1h-3zM596 717h3v1h-3zM602 717h3v1h-3zM992 717h3v1h-3zM608 718h3v1h-3zM854 718h3v1h-3zM860 718h3v1h-3zM866 718h3v1h-3zM872 718h3v1h-3zM986 718h3v1h-3zM614 719h2v1h-2zM849 719h2v1h-2zM878 719h2v1h-2zM980 719h3v1h-3zM616 720h1v1h-1zM848 720h1v1h-1zM880 720h1v1h-1zM976 720h1v1h-1zM620 721h3v1h-3zM844 721h1v1h-1zM884 721h3v1h-3zM974 721h2v1h-2zM626 722h2v1h-2zM830 722h3v1h-3zM836 722h3v1h-3zM842 722h2v1h-2zM890 722h2v1h-2zM969 722h2v1h-2zM628 723h1v1h-1zM824 723h3v1h-3zM892 723h1v1h-1zM968 723h1v1h-1zM632 724h3v1h-3zM808 724h1v1h-1zM812 724h3v1h-3zM818 724h3v1h-3zM896 724h3v1h-3zM964 724h1v1h-1zM638 726h3v1h-3zM770 726h3v1h-3zM776 726h3v1h-3zM782 726h3v1h-3zM788 726h3v1h-3zM794 726h3v1h-3zM800 726h3v1h-3zM904 726h1v1h-1zM950 726h3v1h-3zM956 726h2v1h-2zM644 728h2v1h-2zM758 728h3v1h-3zM914 728h3v1h-3zM934 728h1v1h-1zM938 728h3v1h-3zM646 729h1v1h-1zM752 729h3v1h-3zM920 729h3v1h-3zM926 729h3v1h-3zM932 729h2v1h-2zM650 730h1v1h-1zM742 730h1v1h-1zM746 730h3v1h-3zM651 731h2v1h-2zM740 731h2v1h-2zM656 733h1v1h-1zM657 734h2v1h-2zM728 734h3v1h-3zM662 736h3v1h-3zM722 736h2v1h-2zM668 738h3v1h-3zM712 738h1v1h-1zM674 739h3v1h-3zM710 739h2v1h-2zM680 740h3v1h-3zM704 740h3v1h-3zM686 741h2v1h-2zM700 741h1v1h-1zM688 742h1v1h-1zM692 742h3v1h-3zM698 742h2v1h-2zM716 737h3v1h-3zM724 735h1v1h-1zM734 732h3v1h-3zM764 727h3v1h-3zM908 727h3v1h-3zM944 727h3v1h-3zM806 725h2v1h-2zM902 725h2v1h-2zM958 725h1v1h-1zM962 725h2v1h-2z" fill="#ff0000"/>
</g>
<text x="6" y="667" font-size="10" fill="#000" textLength="148" lengthAdjust="spacingAndGlyphs" stroke="#000" stroke-width="0.25">MACD(12,26,9) 0.007201 0.007872</text>
<text x="1582.3" y="665.1" font-size="10" fill="#000" textLength="37.5" lengthAdjust="spacingAndGlyphs" stroke="#000" stroke-width="0.25">0.014384</text>
<text x="1582.3" y="728.0" font-size="10" fill="#000" textLength="17.5" lengthAdjust="spacingAndGlyphs" stroke="#000" stroke-width="0.25">0.00</text>
<text x="1582.3" y="747.2" font-size="10" fill="#000" textLength="40.5" lengthAdjust="spacingAndGlyphs" stroke="#000" stroke-width="0.25">-0.005396</text>
<rect x="1579" y="656" width="2" height="1" fill="#000"/>
<rect x="1579" y="724" width="2" height="1" fill="#000"/>
<rect x="1579" y="749" width="2" height="1" fill="#000"/>
<rect x="2" y="751" width="1" height="3" fill="#000"/>
<text x="1" y="763" font-size="10" fill="#000" textLength="50" lengthAdjust="spacingAndGlyphs" stroke="#000" stroke-width="0.25">25 Jun 2020</text>
<rect x="66" y="751" width="1" height="3" fill="#000"/>
<text x="65" y="763" font-size="10" fill="#000" textLength="42" lengthAdjust="spacingAndGlyphs" stroke="#000" stroke-width="0.25">4 Jul 2020</text>
<rect x="130" y="751" width="1" height="3" fill="#000"/>
<text x="129" y="763" font-size="10" fill="#000" textLength="47" lengthAdjust="spacingAndGlyphs" stroke="#000" stroke-width="0.25">14 Jul 2020</text>
<rect x="194" y="751" width="1" height="3" fill="#000"/>
<text x="193" y="763" font-size="10" fill="#000" textLength="47" lengthAdjust="spacingAndGlyphs" stroke="#000" stroke-width="0.25">23 Jul 2020</text>
<rect x="258" y="751" width="1" height="3" fill="#000"/>
<text x="257" y="763" font-size="10" fill="#000" textLength="48" lengthAdjust="spacingAndGlyphs" stroke="#000" stroke-width="0.25">1 Aug 2020</text>
<rect x="322" y="751" width="1" height="3" fill="#000"/>
<text x="321" y="763" font-size="10" fill="#000" textLength="53" lengthAdjust="spacingAndGlyphs" stroke="#000" stroke-width="0.25">11 Aug 2020</text>
<rect x="386" y="751" width="1" height="3" fill="#000"/>
<text x="385" y="763" font-size="10" fill="#000" textLength="52.7" lengthAdjust="spacingAndGlyphs" stroke="#000" stroke-width="0.25">20 Aug 2020</text>
<rect x="450" y="751" width="1" height="3" fill="#000"/>
<text x="449" y="763" font-size="10" fill="#000" textLength="52.7" lengthAdjust="spacingAndGlyphs" stroke="#000" stroke-width="0.25">29 Aug 2020</text>
<rect x="514" y="751" width="1" height="3" fill="#000"/>
<text x="513" y="763" font-size="10" fill="#000" textLength="46.6" lengthAdjust="spacingAndGlyphs" stroke="#000" stroke-width="0.25">8 Sep 2020</text>
<rect x="578" y="751" width="1" height="3" fill="#000"/>
<text x="577" y="763" font-size="10" fill="#000" textLength="52" lengthAdjust="spacingAndGlyphs" stroke="#000" stroke-width="0.25">17 Sep 2020</text>
<rect x="642" y="751" width="1" height="3" fill="#000"/>
<text x="641" y="763" font-size="10" fill="#000" textLength="51.9" lengthAdjust="spacingAndGlyphs" stroke="#000" stroke-width="0.25">26 Sep 2020</text>
<rect x="706" y="751" width="1" height="3" fill="#000"/>
<text x="705" y="763" font-size="10" fill="#000" textLength="45.6" lengthAdjust="spacingAndGlyphs" stroke="#000" stroke-width="0.25">6 Oct 2020</text>
<rect x="770" y="751" width="1" height="3" fill="#000"/>
<text x="769" y="763" font-size="10" fill="#000" textLength="50.4" lengthAdjust="spacingAndGlyphs" stroke="#000" stroke-width="0.25">15 Oct 2020</text>
<rect x="834" y="751" width="1" height="3" fill="#000"/>
<text x="833" y="763" font-size="10" fill="#000" textLength="50.6" lengthAdjust="spacingAndGlyphs" stroke="#000" stroke-width="0.25">24 Oct 2020</text>
<rect x="898" y="751" width="1" height="3" fill="#000"/>
<text x="897" y="763" font-size="10" fill="#000" textLength="48.4" lengthAdjust="spacingAndGlyphs" stroke="#000" stroke-width="0.25">3 Nov 2020</text>
<rect x="962" y="751" width="1" height="3" fill="#000"/>
<text x="961" y="763" font-size="10" fill="#000" textLength="53.8" lengthAdjust="spacingAndGlyphs" stroke="#000" stroke-width="0.25">12 Nov 2020</text>
<rect x="1026" y="751" width="1" height="3" fill="#000"/>
<text x="1025" y="763" font-size="10" fill="#000" textLength="53.7" lengthAdjust="spacingAndGlyphs" stroke="#000" stroke-width="0.25">21 Nov 2020</text>
<rect x="1090" y="751" width="1" height="3" fill="#000"/>
<text x="1089" y="763" font-size="10" fill="#000" textLength="46.8" lengthAdjust="spacingAndGlyphs" stroke="#000" stroke-width="0.25">1 Dec 2020</text>
<rect x="1154" y="751" width="1" height="3" fill="#000"/>
<text x="1153" y="763" font-size="10" fill="#000" textLength="51.6" lengthAdjust="spacingAndGlyphs" stroke="#000" stroke-width="0.25">10 Dec 2020</text>
<rect x="1218" y="751" width="1" height="3" fill="#000"/>
<text x="1217" y="763" font-size="10" fill="#000" textLength="51.8" lengthAdjust="spacingAndGlyphs" stroke="#000" stroke-width="0.25">19 Dec 2020</text>
<rect x="0" y="771" width="1620" height="1" fill="#e3e3e3"/>
<rect x="0" y="772" width="1620" height="22" fill="#f0f0f0"/>
<rect x="0" y="772" width="1620" height="1" fill="#ffffff"/>
<rect x="0" y="773" width="1620" height="1" fill="#000"/>
<rect x="0" y="774" width="1620" height="1" fill="#ffffff"/>
<rect x="3" y="772" width="104" height="20" fill="#ffffff"/>
<rect x="3" y="773" width="1" height="19" fill="#000"/>
<rect x="106" y="773" width="1" height="19" fill="#000"/>
<rect x="3" y="791" width="104" height="1" fill="#000"/>
<rect x="4" y="772" width="102" height="2" fill="#ffffff"/>
<rect x="0" y="793" width="1620" height="1" fill="#ffffff"/>
<rect x="4" y="792" width="104" height="1" fill="#b4b4b4"/>
<rect x="107" y="775" width="1" height="18" fill="#d4d4d4"/>
<text x="15.4" y="788" font-size="12.5" fill="#000" textLength="79.6" lengthAdjust="spacingAndGlyphs">EURUSD,Daily</text>
<text x="117.3" y="788" font-size="12.5" fill="#6d6d6d" textLength="78.7" lengthAdjust="spacingAndGlyphs">USDCHF,Daily</text>
<text x="218.3" y="788" font-size="12.5" fill="#6d6d6d" textLength="81.7" lengthAdjust="spacingAndGlyphs">AUDUSD,Daily</text>
<text x="322.7" y="788" font-size="12.5" fill="#6d6d6d" textLength="80.6" lengthAdjust="spacingAndGlyphs">USDCAD,Daily</text>
<text x="426" y="788" font-size="12.5" fill="#6d6d6d" textLength="81.7" lengthAdjust="spacingAndGlyphs">USDCNH,Daily</text>
<text x="531.5" y="788" font-size="12.5" fill="#6d6d6d" textLength="79.5" lengthAdjust="spacingAndGlyphs">EURUSD,Daily</text>
<text x="635.3" y="788" font-size="12.5" fill="#6d6d6d" textLength="67.7" lengthAdjust="spacingAndGlyphs">GBPUSD,H4</text>
<text x="725.6" y="788" font-size="12.5" fill="#6d6d6d" textLength="94.1" lengthAdjust="spacingAndGlyphs">XAUUSD,Weekly</text>
<text x="841.9" y="788" font-size="12.5" fill="#6d6d6d" textLength="49.4" lengthAdjust="spacingAndGlyphs">HK50,H1</text>
<text x="914.6" y="788" font-size="12.5" fill="#6d6d6d" textLength="55.5" lengthAdjust="spacingAndGlyphs">UK100,H1</text>
<text x="994.8" y="788" font-size="12.5" fill="#6d6d6d" textLength="55.5" lengthAdjust="spacingAndGlyphs">UK100,H1</text>
<text x="1074.5" y="788" font-size="12.5" fill="#6d6d6d" textLength="56.4" lengthAdjust="spacingAndGlyphs">GER30,H1</text>
<text x="1153.3" y="788" font-size="12.5" fill="#6d6d6d" textLength="54.3" lengthAdjust="spacingAndGlyphs">FRA40,H1</text>
<text x="1229.4" y="788" font-size="12.5" fill="#6d6d6d" textLength="62.2" lengthAdjust="spacingAndGlyphs">USOil,Daily</text>
<text x="1313.4" y="788" font-size="12.5" fill="#6d6d6d" textLength="61.8" lengthAdjust="spacingAndGlyphs">USDJPY,H1</text>
<text x="1397" y="788" font-size="12.5" fill="#6d6d6d" textLength="58.8" lengthAdjust="spacingAndGlyphs">DJ30,Daily</text>
<text x="1477.6" y="788" font-size="12.5" fill="#6d6d6d" textLength="77.4" lengthAdjust="spacingAndGlyphs">CHINA300,H1</text>
<text x="1577.5" y="788" font-size="12.5" fill="#6d6d6d" textLength="17" lengthAdjust="spacingAndGlyphs">US</text>
<rect x="207" y="776" width="1" height="14" fill="#6a6a6a"/>
<rect x="311" y="776" width="1" height="14" fill="#6a6a6a"/>
<rect x="415" y="776" width="1" height="14" fill="#6a6a6a"/>
<rect x="519" y="776" width="1" height="14" fill="#6a6a6a"/>
<rect x="623" y="776" width="1" height="14" fill="#6a6a6a"/>
<rect x="715" y="776" width="1" height="14" fill="#6a6a6a"/>
<rect x="831" y="776" width="1" height="14" fill="#6a6a6a"/>
<rect x="904" y="776" width="1" height="14" fill="#6a6a6a"/>
<rect x="983" y="776" width="1" height="14" fill="#6a6a6a"/>
<rect x="1063" y="776" width="1" height="14" fill="#6a6a6a"/>
<rect x="1143" y="776" width="1" height="14" fill="#6a6a6a"/>
<rect x="1220" y="776" width="1" height="14" fill="#6a6a6a"/>
<rect x="1304" y="776" width="1" height="14" fill="#6a6a6a"/>
<rect x="1387" y="776" width="1" height="14" fill="#6a6a6a"/>
<rect x="1468" y="776" width="1" height="14" fill="#6a6a6a"/>
<rect x="1567" y="776" width="1" height="14" fill="#6a6a6a"/>
<rect x="1588" y="775" width="32" height="18" fill="#f0f0f0"/>
<path d="M1597,779 L1597,785.5 L1593.8,782.2 Z" fill="#a0a0a0" shape-rendering="auto"/>
<path d="M1613,779 L1613,785.5 L1616.4,782.2 Z" fill="#000" shape-rendering="auto"/>
</svg></body></html>
